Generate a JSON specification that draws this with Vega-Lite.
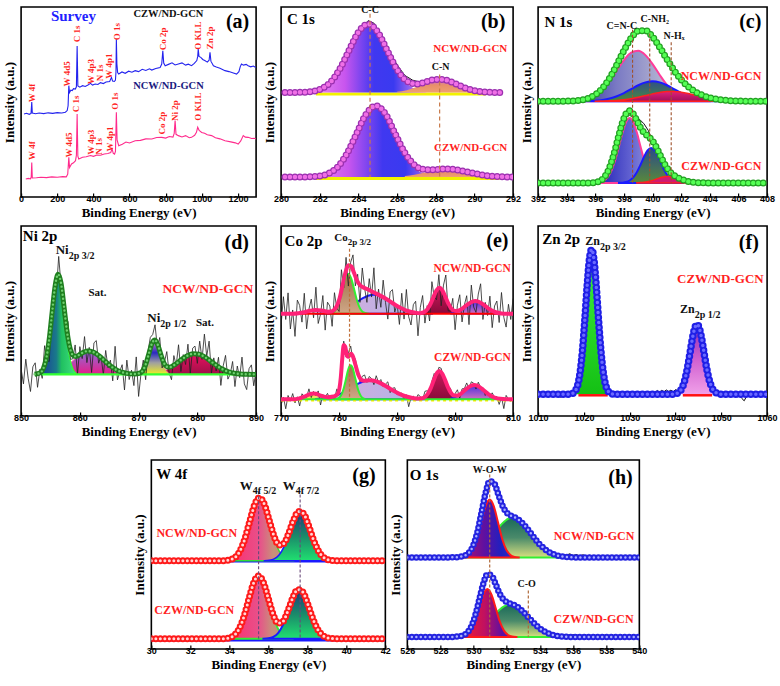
{
"$schema":"https://vega.github.io/schema/vega-lite/v6.json",
"padding":{"left":2,"right":0,"top":3,"bottom":2},
"background":"white",
"config":{
 "view":{"stroke":"#000","strokeWidth":1.6},
 "axis":{"grid":false,"domain":false,"titleFont":"Liberation Serif","titleFontWeight":"bold","titleFontSize":13,"titleColor":"#000","labelFont":"Liberation Sans","labelFontWeight":"bold","labelFontSize":9,"labelColor":"#000"},
 "axisX":{"tickSize":-4,"tickColor":"#000","tickWidth":1.2,"labelPadding":1.5,"titlePadding":3,"labelFlush":false,"format":"d"},
 "axisY":{"labels":false,"ticks":false,"titlePadding":5},
 "text":{"font":"Liberation Serif","fontWeight":"bold"}
},
"datasets":{
 "aBlue":[{"x":16,"y":43.7},{"x":30,"y":44.1},{"x":45,"y":43.5},{"x":55,"y":44},{"x":59,"y":50},{"x":62,"y":44.2},{"x":80,"y":43.8},{"x":100,"y":44.2},{"x":125,"y":43.9},{"x":150,"y":44.3},{"x":175,"y":44},{"x":200,"y":44.4},{"x":225,"y":44.2},{"x":245,"y":44.6},{"x":255,"y":45.5},{"x":260,"y":48},{"x":264,"y":58.6},{"x":268,"y":55},{"x":275,"y":56.2},{"x":283,"y":56},{"x":290,"y":57},{"x":300,"y":56.8},{"x":306,"y":58},{"x":310,"y":79.5},{"x":314,"y":58.5},{"x":325,"y":57.8},{"x":340,"y":58.6},{"x":355,"y":58.2},{"x":370,"y":59},{"x":384,"y":59.8},{"x":395,"y":58.9},{"x":410,"y":59.5},{"x":425,"y":59.2},{"x":439,"y":60.2},{"x":455,"y":59.7},{"x":470,"y":60.5},{"x":490,"y":60.8},{"x":500,"y":63},{"x":506,"y":61},{"x":516,"y":60.8},{"x":522,"y":61.5},{"x":525,"y":66},{"x":527,"y":83},{"x":530,"y":70},{"x":534,"y":65.5},{"x":540,"y":64.7},{"x":558,"y":65.8},{"x":576,"y":65.1},{"x":595,"y":66.2},{"x":613,"y":65.7},{"x":631,"y":66.5},{"x":650,"y":66},{"x":670,"y":67.2},{"x":690,"y":66.6},{"x":710,"y":67.5},{"x":723,"y":66.8},{"x":745,"y":67.6},{"x":769,"y":68.2},{"x":778,"y":70},{"x":784,"y":77},{"x":789,"y":70.5},{"x":797,"y":69.1},{"x":815,"y":69.8},{"x":835,"y":70.6},{"x":852,"y":69.5},{"x":870,"y":70},{"x":890,"y":70.6},{"x":910,"y":69.4},{"x":925,"y":69.9},{"x":943,"y":69.1},{"x":958,"y":70.3},{"x":972,"y":71.8},{"x":977,"y":74},{"x":980,"y":77.9},{"x":984,"y":74},{"x":994,"y":73.5},{"x":1005,"y":72.4},{"x":1016,"y":71.8},{"x":1030,"y":71},{"x":1040,"y":72},{"x":1045,"y":76.2},{"x":1050,"y":71.5},{"x":1064,"y":69.1},{"x":1080,"y":68.4},{"x":1100,"y":67.8},{"x":1128,"y":66.5},{"x":1150,"y":66},{"x":1170,"y":65.4},{"x":1192,"y":64.7},{"x":1205,"y":66},{"x":1212,"y":68.5},{"x":1219,"y":70},{"x":1230,"y":69.4},{"x":1245,"y":69.8},{"x":1256,"y":69.1},{"x":1270,"y":68.5},{"x":1285,"y":68.9},{"x":1298,"y":68.2}],
 "aPink":[{"x":26,"y":9.5},{"x":40,"y":9.8},{"x":52,"y":9.5},{"x":56,"y":10.5},{"x":59,"y":18.2},{"x":62,"y":10},{"x":85,"y":10.1},{"x":110,"y":10.4},{"x":140,"y":10.2},{"x":170,"y":10.6},{"x":200,"y":10.4},{"x":230,"y":10.7},{"x":250,"y":10.6},{"x":258,"y":12},{"x":264,"y":20.9},{"x":268,"y":15.5},{"x":279,"y":17.4},{"x":290,"y":18},{"x":301,"y":19.1},{"x":306,"y":22},{"x":310,"y":43.7},{"x":314,"y":21.5},{"x":319,"y":20},{"x":340,"y":20.9},{"x":360,"y":21.2},{"x":384,"y":21.8},{"x":400,"y":21.4},{"x":420,"y":22.1},{"x":439,"y":22},{"x":460,"y":22.6},{"x":480,"y":22.9},{"x":496,"y":23.4},{"x":503,"y":25.3},{"x":510,"y":23},{"x":517,"y":22.6},{"x":522,"y":24},{"x":527,"y":44.6},{"x":531,"y":30},{"x":540,"y":27},{"x":560,"y":27.8},{"x":580,"y":28.9},{"x":600,"y":28.4},{"x":631,"y":29.6},{"x":660,"y":29.8},{"x":690,"y":30.6},{"x":723,"y":30.5},{"x":750,"y":31.3},{"x":778,"y":31.4},{"x":800,"y":31},{"x":820,"y":31.8},{"x":840,"y":31.5},{"x":847,"y":33.5},{"x":852,"y":40.2},{"x":857,"y":33},{"x":870,"y":32.3},{"x":890,"y":31.6},{"x":910,"y":32.3},{"x":930,"y":31.2},{"x":943,"y":31.4},{"x":960,"y":32.5},{"x":970,"y":34},{"x":977,"y":36.7},{"x":985,"y":35},{"x":999,"y":34},{"x":1015,"y":33.5},{"x":1030,"y":32.8},{"x":1054,"y":32.3},{"x":1075,"y":31.2},{"x":1100,"y":30.6},{"x":1128,"y":29.6},{"x":1160,"y":29},{"x":1185,"y":28.5},{"x":1201,"y":27.9},{"x":1215,"y":29.5},{"x":1229,"y":32.3},{"x":1240,"y":31.5},{"x":1256,"y":31.4},{"x":1275,"y":30.8},{"x":1290,"y":30.9},{"x":1300,"y":30.5}],
 "bEnv":[{"s":"u","x":280.2,"y":55},{"s":"u","x":280.5,"y":55},{"s":"u","x":281,"y":55.08},{"s":"u","x":281.5,"y":55.4},{"s":"u","x":282,"y":56.58},{"s":"u","x":282.5,"y":59.87},{"s":"u","x":283,"y":66.69},{"s":"u","x":283.5,"y":76.83},{"s":"u","x":284,"y":86.77},{"s":"u","x":284.5,"y":91},{"s":"u","x":285,"y":86.77},{"s":"u","x":285.5,"y":76.83},{"s":"u","x":286,"y":67.04},{"s":"u","x":286.5,"y":61.05},{"s":"u","x":287,"y":59.46},{"s":"u","x":287.5,"y":60.58},{"s":"u","x":288,"y":61.91},{"s":"u","x":288.5,"y":61.62},{"s":"u","x":289,"y":59.72},{"s":"u","x":289.5,"y":57.47},{"s":"u","x":290,"y":55.95},{"s":"u","x":290.5,"y":55.27},{"s":"u","x":291,"y":55.06},{"s":"u","x":291.4,"y":55},{"s":"l","x":280.2,"y":10.5},{"s":"l","x":280.9,"y":10.5},{"s":"l","x":281.4,"y":10.58},{"s":"l","x":281.9,"y":10.92},{"s":"l","x":282.4,"y":12.15},{"s":"l","x":282.9,"y":15.57},{"s":"l","x":283.4,"y":22.68},{"s":"l","x":283.9,"y":33.24},{"s":"l","x":284.4,"y":43.59},{"s":"l","x":284.9,"y":48},{"s":"l","x":285.4,"y":43.59},{"s":"l","x":285.9,"y":33.24},{"s":"l","x":286.4,"y":23.25},{"s":"l","x":286.9,"y":16.84},{"s":"l","x":287.4,"y":14.47},{"s":"l","x":287.9,"y":14.35},{"s":"l","x":288.4,"y":14.71},{"s":"l","x":288.9,"y":14.55},{"s":"l","x":289.4,"y":13.72},{"s":"l","x":289.9,"y":12.59},{"s":"l","x":290.4,"y":11.6},{"s":"l","x":290.9,"y":10.97},{"s":"l","x":291.4,"y":10.66},{"s":"l","x":292,"y":10.5}],
 "cEnv":[{"s":"u","x":392,"y":50.4},{"s":"u","x":393.5,"y":50.4},{"s":"u","x":394,"y":50.46},{"s":"u","x":394.5,"y":50.59},{"s":"u","x":395,"y":51},{"s":"u","x":395.5,"y":51.93},{"s":"u","x":396,"y":53.85},{"s":"u","x":396.5,"y":57.32},{"s":"u","x":397,"y":62.62},{"s":"u","x":397.5,"y":69.58},{"s":"u","x":398,"y":77.15},{"s":"u","x":398.5,"y":83.65},{"s":"u","x":399,"y":87.42},{"s":"u","x":399.5,"y":87.57},{"s":"u","x":400,"y":84.31},{"s":"u","x":400.5,"y":78.82},{"s":"u","x":401,"y":72.57},{"s":"u","x":401.5,"y":66.67},{"s":"u","x":402,"y":61.79},{"s":"u","x":402.5,"y":58.05},{"s":"u","x":403,"y":55.33},{"s":"u","x":403.5,"y":53.46},{"s":"u","x":404,"y":52.2},{"s":"u","x":404.5,"y":51.41},{"s":"u","x":405,"y":50.93},{"s":"u","x":405.5,"y":50.67},{"s":"u","x":406,"y":50.51},{"s":"u","x":406.5,"y":50.45},{"s":"u","x":407,"y":50.4},{"s":"u","x":408,"y":50.4},{"s":"l","x":392,"y":7.4},{"s":"l","x":395.4,"y":7.4},{"s":"l","x":395.65,"y":7.42},{"s":"l","x":395.9,"y":7.57},{"s":"l","x":396.15,"y":7.92},{"s":"l","x":396.4,"y":8.79},{"s":"l","x":396.65,"y":10.61},{"s":"l","x":396.9,"y":13.88},{"s":"l","x":397.15,"y":18.87},{"s":"l","x":397.4,"y":25.41},{"s":"l","x":397.65,"y":32.7},{"s":"l","x":397.9,"y":39.36},{"s":"l","x":398.15,"y":43.91},{"s":"l","x":398.4,"y":45.35},{"s":"l","x":398.65,"y":43.68},{"s":"l","x":398.9,"y":40.19},{"s":"l","x":399.15,"y":36.52},{"s":"l","x":399.4,"y":33.86},{"s":"l","x":399.65,"y":32.13},{"s":"l","x":399.9,"y":30.38},{"s":"l","x":400.15,"y":27.72},{"s":"l","x":400.4,"y":24.06},{"s":"l","x":400.65,"y":20.05},{"s":"l","x":400.9,"y":16.49},{"s":"l","x":401.15,"y":13.81},{"s":"l","x":401.4,"y":11.94},{"s":"l","x":401.65,"y":10.65},{"s":"l","x":401.9,"y":9.68},{"s":"l","x":402.15,"y":8.93},{"s":"l","x":402.4,"y":8.34},{"s":"l","x":402.65,"y":7.94},{"s":"l","x":402.9,"y":7.68},{"s":"l","x":403.15,"y":7.53},{"s":"l","x":403.4,"y":7.46},{"s":"l","x":404,"y":7.4},{"s":"l","x":408,"y":7.4}],
 "dEnv":[{"x":852.3,"y":21.96},{"x":853.3,"y":22.85},{"x":853.8,"y":25.04},{"x":854.3,"y":30.48},{"x":854.8,"y":40.72},{"x":855.3,"y":55.02},{"x":855.8,"y":68.54},{"x":856.3,"y":74.56},{"x":856.8,"y":69.83},{"x":857.3,"y":57.64},{"x":857.8,"y":44.75},{"x":858.3,"y":35.98},{"x":858.8,"y":32.07},{"x":859.3,"y":31.36},{"x":860.3,"y":33},{"x":861.3,"y":34.16},{"x":862.3,"y":33.63},{"x":863.3,"y":31.58},{"x":864.3,"y":28.79},{"x":865.3,"y":26.13},{"x":866.3,"y":24.14},{"x":867.3,"y":22.92},{"x":868.3,"y":22.3},{"x":869.3,"y":22.07},{"x":870.3,"y":22.7},{"x":870.8,"y":24.36},{"x":871.3,"y":27.97},{"x":871.8,"y":33.35},{"x":872.3,"y":38.37},{"x":872.8,"y":39.97},{"x":873.3,"y":37.18},{"x":873.8,"y":32.18},{"x":874.3,"y":27.99},{"x":874.8,"y":25.94},{"x":875.3,"y":25.67},{"x":876.3,"y":27.35},{"x":877.3,"y":29.68},{"x":878.3,"y":31.69},{"x":879.3,"y":32.74},{"x":880.3,"y":32.46},{"x":881.3,"y":30.97},{"x":882.3,"y":28.75},{"x":883.3,"y":26.45},{"x":884.3,"y":24.56},{"x":885.3,"y":23.27},{"x":886.3,"y":22.52},{"x":887.3,"y":22.15},{"x":888.3,"y":21.99},{"x":890,"y":21.9}],
 "eEnv":[{"s":"u","x":770,"y":53.8},{"s":"u","x":772,"y":53.8},{"s":"u","x":773,"y":54.07},{"s":"u","x":774,"y":54.62},{"s":"u","x":775,"y":55.4},{"s":"u","x":776,"y":55.84},{"s":"u","x":777,"y":55.51},{"s":"u","x":778,"y":54.91},{"s":"u","x":778.6,"y":54.96},{"s":"u","x":779.1,"y":55.67},{"s":"u","x":779.6,"y":57.78},{"s":"u","x":780.1,"y":62.12},{"s":"u","x":780.6,"y":68.76},{"s":"u","x":781.1,"y":75.54},{"s":"u","x":781.6,"y":79.4},{"s":"u","x":782.1,"y":78.76},{"s":"u","x":782.6,"y":75.07},{"s":"u","x":783.1,"y":71.22},{"s":"u","x":783.6,"y":68.84},{"s":"u","x":784.1,"y":67.77},{"s":"u","x":785,"y":66.6},{"s":"u","x":786,"y":64.99},{"s":"u","x":787,"y":63.5},{"s":"u","x":788,"y":61.84},{"s":"u","x":789,"y":59.87},{"s":"u","x":790,"y":57.91},{"s":"u","x":791,"y":56.29},{"s":"u","x":792,"y":55.15},{"s":"u","x":793,"y":54.46},{"s":"u","x":794,"y":54.09},{"s":"u","x":794.3,"y":54.33},{"s":"u","x":794.8,"y":54.93},{"s":"u","x":795.3,"y":56.5},{"s":"u","x":795.8,"y":59.26},{"s":"u","x":796.3,"y":62.86},{"s":"u","x":796.8,"y":66.16},{"s":"u","x":797.3,"y":67.5},{"s":"u","x":797.8,"y":66.16},{"s":"u","x":798.3,"y":62.92},{"s":"u","x":798.8,"y":59.36},{"s":"u","x":799.3,"y":56.74},{"s":"u","x":799.8,"y":55.46},{"s":"u","x":800.3,"y":55.27},{"s":"u","x":801,"y":56.07},{"s":"u","x":802,"y":58.34},{"s":"u","x":803,"y":60.22},{"s":"u","x":803.5,"y":60.5},{"s":"u","x":804,"y":60.22},{"s":"u","x":805,"y":58.34},{"s":"u","x":806,"y":56.07},{"s":"u","x":807,"y":54.6},{"s":"u","x":808,"y":54},{"s":"u","x":809,"y":53.83},{"s":"u","x":810,"y":53.8},{"s":"l","x":770,"y":8.8},{"s":"l","x":772,"y":8.84},{"s":"l","x":773,"y":9.14},{"s":"l","x":774,"y":10.17},{"s":"l","x":775,"y":11.55},{"s":"l","x":775.5,"y":11.9},{"s":"l","x":776,"y":11.7},{"s":"l","x":777,"y":10.52},{"s":"l","x":778,"y":9.88},{"s":"l","x":778.8,"y":10.14},{"s":"l","x":779.3,"y":10.58},{"s":"l","x":779.8,"y":11.81},{"s":"l","x":780.3,"y":20.48},{"s":"l","x":780.55,"y":30.33},{"s":"l","x":780.8,"y":37.36},{"s":"l","x":781.05,"y":36.56},{"s":"l","x":781.3,"y":32.51},{"s":"l","x":781.55,"y":31.12},{"s":"l","x":781.8,"y":32.06},{"s":"l","x":782.05,"y":32.78},{"s":"l","x":782.3,"y":32.02},{"s":"l","x":782.8,"y":27.09},{"s":"l","x":783.3,"y":21.84},{"s":"l","x":783.8,"y":19.19},{"s":"l","x":784.3,"y":18.61},{"s":"l","x":785.3,"y":18.8},{"s":"l","x":786.3,"y":18.32},{"s":"l","x":787.3,"y":17.03},{"s":"l","x":788.3,"y":15.24},{"s":"l","x":789.3,"y":13.38},{"s":"l","x":790.3,"y":11.75},{"s":"l","x":791.3,"y":10.52},{"s":"l","x":792.3,"y":9.71},{"s":"l","x":793.3,"y":9.24},{"s":"l","x":794.3,"y":9.35},{"s":"l","x":794.8,"y":10.02},{"s":"l","x":795.3,"y":11.72},{"s":"l","x":795.8,"y":14.68},{"s":"l","x":796.3,"y":18.66},{"s":"l","x":796.8,"y":22.24},{"s":"l","x":797.3,"y":23.7},{"s":"l","x":797.8,"y":22.24},{"s":"l","x":798.3,"y":18.76},{"s":"l","x":798.8,"y":14.91},{"s":"l","x":799.3,"y":12.12},{"s":"l","x":799.8,"y":10.82},{"s":"l","x":800.3,"y":10.74},{"s":"l","x":800.8,"y":11.34},{"s":"l","x":801.8,"y":13.89},{"s":"l","x":802.8,"y":15.99},{"s":"l","x":803.3,"y":16.3},{"s":"l","x":803.8,"y":15.99},{"s":"l","x":804.8,"y":13.89},{"s":"l","x":805.8,"y":11.34},{"s":"l","x":806.8,"y":9.7},{"s":"l","x":807.8,"y":9.03},{"s":"l","x":808.8,"y":8.84},{"s":"l","x":810,"y":8.8}],
 "eRaw":[{"s":"u","x":770,"y":47.8},{"s":"u","x":770.4,"y":62.8},{"s":"u","x":770.8,"y":50.8},{"s":"u","x":771.2,"y":64.8},{"s":"u","x":771.6,"y":45.8},{"s":"u","x":772,"y":55.8},{"s":"u","x":772.4,"y":41.9},{"s":"u","x":772.8,"y":61},{"s":"u","x":773.2,"y":58.2},{"s":"u","x":773.6,"y":49.4},{"s":"u","x":774,"y":64.6},{"s":"u","x":774.4,"y":45.9},{"s":"u","x":774.8,"y":56.2},{"s":"u","x":775.2,"y":61.5},{"s":"u","x":775.6,"y":51.7},{"s":"u","x":776,"y":67.8},{"s":"u","x":776.4,"y":48.7},{"s":"u","x":776.8,"y":53.6},{"s":"u","x":777.2,"y":63.4},{"s":"u","x":777.6,"y":45.2},{"s":"u","x":778,"y":59.9},{"s":"u","x":778.4,"y":57.9},{"s":"u","x":778.8,"y":47.2},{"s":"u","x":779.2,"y":64.9},{"s":"u","x":779.6,"y":56.8},{"s":"u","x":780,"y":55},{"s":"u","x":780.4,"y":77},{"s":"u","x":780.8,"y":67.5},{"s":"u","x":781.2,"y":83.5},{"s":"u","x":781.6,"y":68.4},{"s":"u","x":782,"y":81},{"s":"u","x":782.4,"y":84.8},{"s":"u","x":782.8,"y":68.5},{"s":"u","x":783.2,"y":74.6},{"s":"u","x":783.6,"y":59.8},{"s":"u","x":784,"y":77.9},{"s":"u","x":784.4,"y":67.3},{"s":"u","x":784.8,"y":59.8},{"s":"u","x":785.2,"y":72.3},{"s":"u","x":785.6,"y":62.6},{"s":"u","x":786,"y":78},{"s":"u","x":786.4,"y":56.4},{"s":"u","x":786.8,"y":66.8},{"s":"u","x":787.2,"y":57.2},{"s":"u","x":787.6,"y":71.5},{"s":"u","x":788,"y":59.8},{"s":"u","x":788.4,"y":51},{"s":"u","x":788.8,"y":65.3},{"s":"u","x":789.2,"y":66.5},{"s":"u","x":789.6,"y":54.7},{"s":"u","x":790,"y":58.9},{"s":"u","x":790.4,"y":48.2},{"s":"u","x":790.8,"y":64.6},{"s":"u","x":791.2,"y":51},{"s":"u","x":791.6,"y":66.6},{"s":"u","x":792,"y":52.2},{"s":"u","x":792.4,"y":47.9},{"s":"u","x":792.8,"y":58.6},{"s":"u","x":793.2,"y":60.4},{"s":"u","x":793.6,"y":42.2},{"s":"u","x":794,"y":57.1},{"s":"u","x":794.4,"y":63.4},{"s":"u","x":794.8,"y":48.9},{"s":"u","x":795.2,"y":58.1},{"s":"u","x":795.6,"y":50},{"s":"u","x":796,"y":70.7},{"s":"u","x":796.4,"y":62.6},{"s":"u","x":796.8,"y":61.2},{"s":"u","x":797.2,"y":74.4},{"s":"u","x":797.6,"y":58},{"s":"u","x":798,"y":68.9},{"s":"u","x":798.4,"y":74.2},{"s":"u","x":798.8,"y":55.4},{"s":"u","x":799.2,"y":55.2},{"s":"u","x":799.6,"y":61.9},{"s":"u","x":800,"y":45.4},{"s":"u","x":800.4,"y":58.3},{"s":"u","x":800.8,"y":63.8},{"s":"u","x":801.2,"y":49.5},{"s":"u","x":801.6,"y":58.4},{"s":"u","x":802,"y":63.3},{"s":"u","x":802.4,"y":48.1},{"s":"u","x":802.8,"y":68.9},{"s":"u","x":803.2,"y":57.4},{"s":"u","x":803.6,"y":54.5},{"s":"u","x":804,"y":64.2},{"s":"u","x":804.4,"y":69.6},{"s":"u","x":804.8,"y":50.8},{"s":"u","x":805.2,"y":59.8},{"s":"u","x":805.6,"y":52.9},{"s":"u","x":806,"y":63.1},{"s":"u","x":806.4,"y":46.5},{"s":"u","x":806.8,"y":57.9},{"s":"u","x":807.2,"y":60.5},{"s":"u","x":807.6,"y":49.2},{"s":"u","x":808,"y":65},{"s":"u","x":808.4,"y":51.9},{"s":"u","x":808.8,"y":46.8},{"s":"u","x":809.2,"y":58.8},{"s":"u","x":809.6,"y":50.8},{"s":"u","x":810,"y":61.8},{"s":"l","x":770,"y":5.8},{"s":"l","x":770.4,"y":9.8},{"s":"l","x":770.8,"y":3.8},{"s":"l","x":771.2,"y":10.8},{"s":"l","x":771.6,"y":7.8},{"s":"l","x":772,"y":11.8},{"s":"l","x":772.4,"y":6.9},{"s":"l","x":772.8,"y":10.1},{"s":"l","x":773.2,"y":5.3},{"s":"l","x":773.6,"y":11.7},{"s":"l","x":774,"y":10.2},{"s":"l","x":774.4,"y":9.8},{"s":"l","x":774.8,"y":14.3},{"s":"l","x":775.2,"y":9.7},{"s":"l","x":775.6,"y":12.9},{"s":"l","x":776,"y":10.7},{"s":"l","x":776.4,"y":13.2},{"s":"l","x":776.8,"y":5.8},{"s":"l","x":777.2,"y":11.3},{"s":"l","x":777.6,"y":10},{"s":"l","x":778,"y":11.9},{"s":"l","x":778.4,"y":8.95},{"s":"l","x":778.8,"y":11.1},{"s":"l","x":779.2,"y":8.5},{"s":"l","x":779.6,"y":14.2},{"s":"l","x":780,"y":13},{"s":"l","x":780.4,"y":26},{"s":"l","x":780.8,"y":39.4},{"s":"l","x":781.2,"y":31},{"s":"l","x":781.6,"y":33.2},{"s":"l","x":782,"y":36.8},{"s":"l","x":782.4,"y":29.2},{"s":"l","x":782.8,"y":30.1},{"s":"l","x":783.2,"y":23.8},{"s":"l","x":783.6,"y":18},{"s":"l","x":784,"y":20.9},{"s":"l","x":784.4,"y":21.6},{"s":"l","x":784.8,"y":17.7},{"s":"l","x":785.2,"y":20.8},{"s":"l","x":785.6,"y":19.7},{"s":"l","x":786,"y":16.5},{"s":"l","x":786.4,"y":21.2},{"s":"l","x":786.8,"y":17.7},{"s":"l","x":787.2,"y":19.2},{"s":"l","x":787.6,"y":15.5},{"s":"l","x":788,"y":16.8},{"s":"l","x":788.4,"y":18},{"s":"l","x":788.8,"y":12.3},{"s":"l","x":789.2,"y":14.6},{"s":"l","x":789.6,"y":14.9},{"s":"l","x":790,"y":11.2},{"s":"l","x":790.4,"y":11.6},{"s":"l","x":790.8,"y":12.1},{"s":"l","x":791.2,"y":8.6},{"s":"l","x":791.6,"y":11.2},{"s":"l","x":792,"y":4.9},{"s":"l","x":792.4,"y":9.65},{"s":"l","x":792.8,"y":10.45},{"s":"l","x":793.2,"y":8.28},{"s":"l","x":793.6,"y":11.28},{"s":"l","x":794,"y":10.3},{"s":"l","x":794.4,"y":8.45},{"s":"l","x":794.8,"y":13},{"s":"l","x":795.2,"y":13.3},{"s":"l","x":795.6,"y":12.4},{"s":"l","x":796,"y":18.2},{"s":"l","x":796.4,"y":22.4},{"s":"l","x":796.8,"y":20.2},{"s":"l","x":797.2,"y":25.6},{"s":"l","x":797.6,"y":25.1},{"s":"l","x":798,"y":19.9},{"s":"l","x":798.4,"y":19},{"s":"l","x":798.8,"y":14.9},{"s":"l","x":799.2,"y":14.6},{"s":"l","x":799.6,"y":10.3},{"s":"l","x":800,"y":11.8},{"s":"l","x":800.4,"y":13.8},{"s":"l","x":800.8,"y":9.3},{"s":"l","x":801.2,"y":14.3},{"s":"l","x":801.6,"y":14.4},{"s":"l","x":802,"y":17.4},{"s":"l","x":802.4,"y":14.3},{"s":"l","x":802.8,"y":18},{"s":"l","x":803.2,"y":17.3},{"s":"l","x":803.6,"y":14.2},{"s":"l","x":804,"y":17.8},{"s":"l","x":804.4,"y":15},{"s":"l","x":804.8,"y":14.9},{"s":"l","x":805.2,"y":10.8},{"s":"l","x":805.6,"y":12.8},{"s":"l","x":806,"y":9.9},{"s":"l","x":806.4,"y":12.2},{"s":"l","x":806.8,"y":9.7},{"s":"l","x":807.2,"y":10.3},{"s":"l","x":807.6,"y":6.1},{"s":"l","x":808,"y":9.95},{"s":"l","x":808.4,"y":3.9},{"s":"l","x":808.8,"y":10.84},{"s":"l","x":809.2,"y":8.8},{"s":"l","x":809.6,"y":7.8},{"s":"l","x":810,"y":9.8}],
 "fEnv":[{"x":1010,"y":11.4},{"x":1016.2,"y":11.4},{"x":1016.7,"y":11.45},{"x":1017.2,"y":11.59},{"x":1017.7,"y":12.07},{"x":1018.2,"y":13.44},{"x":1018.7,"y":16.72},{"x":1019.2,"y":23.41},{"x":1019.7,"y":34.77},{"x":1020.2,"y":50.61},{"x":1020.7,"y":68.16},{"x":1021.2,"y":82.26},{"x":1021.7,"y":87.7},{"x":1022.2,"y":82.26},{"x":1022.7,"y":68.16},{"x":1023.2,"y":50.61},{"x":1023.7,"y":34.77},{"x":1024.2,"y":23.41},{"x":1024.7,"y":16.72},{"x":1025.2,"y":13.44},{"x":1025.7,"y":12.07},{"x":1026.2,"y":11.59},{"x":1026.7,"y":11.45},{"x":1027.2,"y":11.4},{"x":1039.2,"y":11.4},{"x":1039.7,"y":11.54},{"x":1040.2,"y":11.81},{"x":1040.7,"y":12.45},{"x":1041.2,"y":13.82},{"x":1041.7,"y":16.38},{"x":1042.2,"y":20.56},{"x":1042.7,"y":26.52},{"x":1043.2,"y":33.72},{"x":1043.7,"y":40.88},{"x":1044.2,"y":46.21},{"x":1044.7,"y":48.2},{"x":1045.2,"y":46.21},{"x":1045.7,"y":40.88},{"x":1046.2,"y":33.72},{"x":1046.7,"y":26.52},{"x":1047.2,"y":20.56},{"x":1047.7,"y":16.38},{"x":1048.2,"y":13.82},{"x":1048.7,"y":12.45},{"x":1049.2,"y":11.81},{"x":1049.7,"y":11.54},{"x":1050.2,"y":11.4},{"x":1060,"y":11.4}],
 "gEnv":[{"s":"u","x":30,"y":46.7},{"s":"u","x":33.3,"y":46.7},{"s":"u","x":33.55,"y":46.72},{"s":"u","x":33.8,"y":46.82},{"s":"u","x":34.05,"y":47.22},{"s":"u","x":34.3,"y":48.55},{"s":"u","x":34.55,"y":51.94},{"s":"u","x":34.8,"y":58.47},{"s":"u","x":35.05,"y":67.67},{"s":"u","x":35.3,"y":76.36},{"s":"u","x":35.55,"y":80},{"s":"u","x":35.8,"y":76.41},{"s":"u","x":36.05,"y":67.93},{"s":"u","x":36.3,"y":59.47},{"s":"u","x":36.55,"y":54.98},{"s":"u","x":36.8,"y":55.91},{"s":"u","x":37.05,"y":61.34},{"s":"u","x":37.3,"y":68.32},{"s":"u","x":37.55,"y":72.73},{"s":"u","x":37.8,"y":71.63},{"s":"u","x":38.05,"y":65.68},{"s":"u","x":38.3,"y":58.17},{"s":"u","x":38.55,"y":52.2},{"s":"u","x":38.8,"y":48.79},{"s":"u","x":39.05,"y":47.33},{"s":"u","x":39.3,"y":46.85},{"s":"u","x":39.55,"y":46.73},{"s":"u","x":40,"y":46.7},{"s":"u","x":42,"y":46.7},{"s":"l","x":30,"y":5.4},{"s":"l","x":33.25,"y":5.4},{"s":"l","x":33.5,"y":5.42},{"s":"l","x":33.75,"y":5.52},{"s":"l","x":34,"y":5.92},{"s":"l","x":34.25,"y":7.25},{"s":"l","x":34.5,"y":10.64},{"s":"l","x":34.75,"y":17.17},{"s":"l","x":35,"y":26.37},{"s":"l","x":35.25,"y":35.06},{"s":"l","x":35.5,"y":38.7},{"s":"l","x":35.75,"y":35.11},{"s":"l","x":36,"y":26.63},{"s":"l","x":36.25,"y":18.17},{"s":"l","x":36.5,"y":13.68},{"s":"l","x":36.75,"y":14.61},{"s":"l","x":37,"y":20.04},{"s":"l","x":37.25,"y":27.02},{"s":"l","x":37.5,"y":31.43},{"s":"l","x":37.75,"y":30.33},{"s":"l","x":38,"y":24.38},{"s":"l","x":38.25,"y":16.87},{"s":"l","x":38.5,"y":10.9},{"s":"l","x":38.75,"y":7.49},{"s":"l","x":39,"y":6.03},{"s":"l","x":39.25,"y":5.55},{"s":"l","x":39.5,"y":5.43},{"s":"l","x":40,"y":5.4},{"s":"l","x":42,"y":5.4}],
 "hEnv":[{"s":"u","x":526,"y":48.4},{"s":"u","x":528.2,"y":48.4},{"s":"u","x":528.47,"y":48.44},{"s":"u","x":528.72,"y":48.49},{"s":"u","x":528.97,"y":48.59},{"s":"u","x":529.22,"y":48.84},{"s":"u","x":529.47,"y":49.43},{"s":"u","x":529.72,"y":50.96},{"s":"u","x":529.97,"y":54.58},{"s":"u","x":530.22,"y":61.61},{"s":"u","x":530.47,"y":71.92},{"s":"u","x":530.72,"y":82.53},{"s":"u","x":530.97,"y":88.7},{"s":"u","x":531.22,"y":87.94},{"s":"u","x":531.47,"y":82.34},{"s":"u","x":531.72,"y":76.28},{"s":"u","x":531.97,"y":72.43},{"s":"u","x":532.22,"y":70.7},{"s":"u","x":532.47,"y":69.69},{"s":"u","x":532.72,"y":68.41},{"s":"u","x":532.97,"y":66.4},{"s":"u","x":533.22,"y":63.83},{"s":"u","x":533.47,"y":60.97},{"s":"u","x":533.97,"y":55.53},{"s":"u","x":534.47,"y":51.7},{"s":"u","x":534.97,"y":49.64},{"s":"u","x":535.47,"y":48.78},{"s":"u","x":535.97,"y":48.49},{"s":"u","x":536.47,"y":48.42},{"s":"u","x":537,"y":48.4},{"s":"u","x":540,"y":48.4},{"s":"l","x":526,"y":6.3},{"s":"l","x":528.1,"y":6.3},{"s":"l","x":528.33,"y":6.33},{"s":"l","x":528.58,"y":6.37},{"s":"l","x":528.83,"y":6.45},{"s":"l","x":529.08,"y":6.66},{"s":"l","x":529.33,"y":7.14},{"s":"l","x":529.58,"y":8.41},{"s":"l","x":529.83,"y":11.38},{"s":"l","x":530.08,"y":17.19},{"s":"l","x":530.33,"y":25.7},{"s":"l","x":530.58,"y":34.45},{"s":"l","x":530.83,"y":39.53},{"s":"l","x":531.08,"y":38.86},{"s":"l","x":531.33,"y":34.2},{"s":"l","x":531.58,"y":29.15},{"s":"l","x":531.83,"y":25.94},{"s":"l","x":532.08,"y":24.5},{"s":"l","x":532.33,"y":23.66},{"s":"l","x":532.58,"y":22.61},{"s":"l","x":532.83,"y":20.97},{"s":"l","x":533.08,"y":18.88},{"s":"l","x":533.33,"y":16.55},{"s":"l","x":533.83,"y":12.11},{"s":"l","x":534.33,"y":8.99},{"s":"l","x":534.83,"y":7.31},{"s":"l","x":535.33,"y":6.61},{"s":"l","x":535.83,"y":6.37},{"s":"l","x":536.33,"y":6.32},{"s":"l","x":537,"y":6.3},{"s":"l","x":540,"y":6.3}]
},
"vconcat":[
 {"vconcat":[
  {"hconcat":[
   {"width":235,"height":190,
    "encoding":{"x":{"field":"x","type":"quantitative","scale":{"domain":[0,1300],"nice":false,"zero":false},"axis":{"values":[0,200,400,600,800,1000,1200],"title":"Binding Energy (eV)"}},
                "y":{"field":"y","type":"quantitative","scale":{"domain":[0,100],"nice":false,"zero":false},"axis":{"title":"Intensity (a.u.)"}}},
    "layer":[
     {"data":{"name":"aBlue"},"mark":{"type":"line","color":"#2323ee","strokeWidth":1.1,"clip":true},"encoding":{}},
     {"data":{"name":"aPink"},"mark":{"type":"line","color":"#ff2a8c","strokeWidth":1.1,"clip":true},"encoding":{}},
     {"data":{"values":[{"x":59,"y":54.7,"t":"W 4f"},{"x":255,"y":64.8,"t":"W 4d5"},{"x":310,"y":85.8,"t":"C 1s"},{"x":384,"y":66,"t":"W 4p3"},{"x":439,"y":65.3,"t":"N 1s"},{"x":489,"y":68.9,"t":"W 4p1"},{"x":531,"y":87.1,"t":"O 1s"},{"x":784,"y":83.2,"t":"Co 2p"},{"x":977,"y":84.9,"t":"O KLL"},{"x":1047,"y":83.7,"t":"Zn 2p"},{"x":59,"y":24.4,"t":"W 4f"},{"x":264,"y":27.4,"t":"W 4d5"},{"x":305,"y":49,"t":"C 1s"},{"x":384,"y":28.8,"t":"W 4p3"},{"x":430,"y":26.6,"t":"N 1s"},{"x":494,"y":30.5,"t":"W 4p1"},{"x":522,"y":50.5,"t":"O 1s"},{"x":778,"y":38.9,"t":"Co 2p"},{"x":852,"y":45.4,"t":"Ni 2p"},{"x":977,"y":47.6,"t":"O KLL"}]},
      "mark":{"type":"text","angle":270,"fontSize":9,"fill":"#ff1f1f"},"encoding":{"text":{"field":"t"}}},
     {"data":{"values":[{"x":165,"y":95.4,"t":"Survey"}]},"mark":{"type":"text","align":"left","fontSize":15,"fill":"#1f1fff"},"encoding":{"text":{"field":"t"}}},
     {"data":{"values":[{"x":815,"y":96.3,"t":"CZW/ND-GCN"}]},"mark":{"type":"text","fontSize":10.5,"fill":"#111"},"encoding":{"text":{"field":"t"}}},
     {"data":{"values":[{"x":815,"y":58.6,"t":"NCW/ND-GCN"}]},"mark":{"type":"text","fontSize":10.5,"fill":"#1a1a80"},"encoding":{"text":{"field":"t"}}},
     {"data":{"values":[{"x":1262,"y":92,"t":"(a)"}]},"mark":{"type":"text","align":"right","fontSize":20,"fill":"#000"},"encoding":{"text":{"field":"t"}}}
    ]},
   {"width":232,"height":190,
    "encoding":{"x":{"field":"x","type":"quantitative","scale":{"domain":[280,292],"nice":false,"zero":false},"axis":{"values":[280,282,284,286,288,290,292],"title":"Binding Energy (eV)"}},
                "y":{"field":"y","type":"quantitative","scale":{"domain":[0,100],"nice":false,"zero":false},"axis":{"title":"Intensity (a.u.)"}}},
    "layer":[
     {"data":{"values":[{"x":281.8,"y":54.2,"s":"u"},{"x":290.6,"y":54.2,"s":"u"},{"x":281.8,"y":9.7,"s":"l"},{"x":291.3,"y":9.7,"s":"l"}]},"mark":{"type":"line","color":"#f2f200","strokeWidth":3,"clip":true},"encoding":{"detail":{"field":"s"}}},
     {"data":{"values":[{"s":"u","x":280.2,"y":55.6},{"s":"u","x":280.6,"y":55.2},{"s":"u","x":281,"y":55.8},{"s":"u","x":281.4,"y":55.3},{"s":"u","x":281.8,"y":56},{"s":"u","x":282.2,"y":57.6},{"s":"u","x":282.6,"y":60.8},{"s":"u","x":283,"y":66.5},{"s":"u","x":283.4,"y":75.5},{"s":"u","x":283.8,"y":83.5},{"s":"u","x":284.2,"y":89.5},{"s":"u","x":284.5,"y":92.8},{"s":"u","x":284.8,"y":91.5},{"s":"u","x":285.2,"y":84.8},{"s":"u","x":285.6,"y":76.5},{"s":"u","x":286,"y":69.5},{"s":"u","x":286.4,"y":64},{"s":"u","x":286.8,"y":61.5},{"s":"u","x":287.2,"y":60.4},{"s":"u","x":287.6,"y":60.9},{"s":"u","x":288,"y":61.8},{"s":"u","x":288.4,"y":61.9},{"s":"u","x":288.8,"y":60.6},{"s":"u","x":289.2,"y":58.8},{"s":"u","x":289.6,"y":57.2},{"s":"u","x":290,"y":56.3},{"s":"u","x":290.4,"y":55.7},{"s":"u","x":290.8,"y":55.2},{"s":"u","x":291.2,"y":55.6},{"s":"l","x":280.2,"y":11.2},{"s":"l","x":280.6,"y":10.8},{"s":"l","x":281,"y":11.3},{"s":"l","x":281.4,"y":10.9},{"s":"l","x":281.8,"y":11.3},{"s":"l","x":282.2,"y":11.9},{"s":"l","x":282.6,"y":13.6},{"s":"l","x":283,"y":17},{"s":"l","x":283.4,"y":22.9},{"s":"l","x":283.8,"y":31.5},{"s":"l","x":284.2,"y":40.5},{"s":"l","x":284.6,"y":46.6},{"s":"l","x":284.9,"y":48.2},{"s":"l","x":285.2,"y":46.5},{"s":"l","x":285.6,"y":39.8},{"s":"l","x":286,"y":31.5},{"s":"l","x":286.4,"y":24.5},{"s":"l","x":286.8,"y":18.8},{"s":"l","x":287.2,"y":15.8},{"s":"l","x":287.6,"y":14.8},{"s":"l","x":288,"y":14.6},{"s":"l","x":288.4,"y":14.9},{"s":"l","x":288.8,"y":14.8},{"s":"l","x":289.2,"y":14.1},{"s":"l","x":289.6,"y":13},{"s":"l","x":290,"y":12.2},{"s":"l","x":290.4,"y":11.4},{"s":"l","x":290.8,"y":11},{"s":"l","x":291.2,"y":10.9},{"s":"l","x":291.6,"y":10.8},{"s":"l","x":292,"y":10.7}]},
      "mark":{"type":"line","color":"#111","strokeWidth":1,"clip":true},"encoding":{"detail":{"field":"s"}}},
     {"data":{"values":[{"x":281.5,"y":55.4},{"x":282,"y":56.58},{"x":282.5,"y":59.87},{"x":283,"y":66.69},{"x":283.5,"y":76.83},{"x":284,"y":86.77},{"x":284.5,"y":91},{"x":285,"y":86.77},{"x":285.5,"y":76.83},{"x":286,"y":66.69},{"x":286.5,"y":59.87},{"x":287,"y":56.58},{"x":287.5,"y":55.4}]},
      "mark":{"type":"area","interpolate":"monotone","clip":true,"fill":{"gradient":"linear","x1":0,"y1":0,"x2":1,"y2":0,"stops":[{"offset":0,"color":"#f290f2"},{"offset":0.3,"color":"#c855ee"},{"offset":0.55,"color":"#4038f0"},{"offset":0.72,"color":"#3a3af0"},{"offset":1,"color":"#f08cf0"}]}},"encoding":{"y2":{"datum":55}}},
     {"data":{"values":[{"x":286,"y":55.35},{"x":286.5,"y":56.18},{"x":287,"y":57.88},{"x":287.5,"y":60.18},{"x":288,"y":61.83},{"x":288.5,"y":61.62},{"x":289,"y":59.72},{"x":289.5,"y":57.47},{"x":290,"y":55.95},{"x":290.5,"y":55.27}]},
      "mark":{"type":"area","interpolate":"monotone","clip":true,"fill":{"gradient":"linear","x1":0,"y1":0,"x2":0,"y2":1,"stops":[{"offset":0,"color":"#d070c8"},{"offset":0.45,"color":"#e8906a"},{"offset":1,"color":"#f0a070"}]}},"encoding":{"y2":{"datum":55}}},
     {"data":{"values":[{"x":281.4,"y":10.58},{"x":281.9,"y":10.92},{"x":282.4,"y":12.15},{"x":282.9,"y":15.57},{"x":283.4,"y":22.68},{"x":283.9,"y":33.24},{"x":284.4,"y":43.59},{"x":284.9,"y":48},{"x":285.4,"y":43.59},{"x":285.9,"y":33.24},{"x":286.4,"y":22.68},{"x":286.9,"y":15.57},{"x":287.4,"y":12.15},{"x":287.9,"y":10.92},{"x":288.4,"y":10.58}]},
      "mark":{"type":"area","interpolate":"monotone","clip":true,"fill":{"gradient":"linear","x1":0,"y1":0,"x2":1,"y2":0,"stops":[{"offset":0,"color":"#f290f2"},{"offset":0.3,"color":"#c855ee"},{"offset":0.55,"color":"#4038f0"},{"offset":0.72,"color":"#3a3af0"},{"offset":1,"color":"#f08cf0"}]}},"encoding":{"y2":{"datum":10.5}}},
     {"data":{"values":[{"x":286.4,"y":11.07},{"x":286.9,"y":11.77},{"x":287.4,"y":12.82},{"x":287.9,"y":13.93},{"x":288.4,"y":14.63},{"x":288.9,"y":14.55},{"x":289.4,"y":13.72},{"x":289.9,"y":12.59},{"x":290.4,"y":11.6},{"x":290.9,"y":10.97},{"x":291.4,"y":10.66}]},
      "mark":{"type":"area","interpolate":"monotone","clip":true,"fill":{"gradient":"linear","x1":0,"y1":0,"x2":0,"y2":1,"stops":[{"offset":0,"color":"#d070c8"},{"offset":0.45,"color":"#e8906a"},{"offset":1,"color":"#f0a070"}]}},"encoding":{"y2":{"datum":10.5}}},
     {"data":{"name":"bEnv"},"mark":{"type":"line","interpolate":"monotone","clip":true,"color":"#9b30b0","strokeWidth":7,"strokeDash":[0,5],"strokeCap":"round"},"encoding":{"detail":{"field":"s"}}},
     {"data":{"name":"bEnv"},"mark":{"type":"line","interpolate":"monotone","clip":true,"color":"#f070e6","strokeWidth":4.5,"strokeDash":[0,5],"strokeCap":"round"},"encoding":{"detail":{"field":"s"}}},
     {"data":{"values":[{"x":284.6,"y":96.5,"y2":10.5},{"x":288.2,"y":64.5,"y2":10.5}]},"mark":{"type":"rule","color":"#c87a4a","strokeWidth":1.2,"strokeDash":[4,3]},"encoding":{"y2":{"field":"y2"}}},
     {"data":{"values":[{"x":284.6,"y":98.6,"t":"C-C"},{"x":288.25,"y":68.5,"t":"C-N"}]},"mark":{"type":"text","fontSize":10,"fill":"#111"},"encoding":{"text":{"field":"t"}}},
     {"data":{"values":[{"x":280.3,"y":93.5,"t":"C 1s"}]},"mark":{"type":"text","align":"left","fontSize":15,"fill":"#000"},"encoding":{"text":{"field":"t"}}},
     {"data":{"values":[{"x":291.6,"y":92,"t":"(b)"}]},"mark":{"type":"text","align":"right","fontSize":20,"fill":"#000"},"encoding":{"text":{"field":"t"}}},
     {"data":{"values":[{"x":291.7,"y":78,"t":"NCW/ND-GCN"},{"x":291.7,"y":26,"t":"CZW/ND-GCN"}]},"mark":{"type":"text","align":"right","fontSize":11,"fill":"#ff1f1f"},"encoding":{"text":{"field":"t"}}}
    ]},
   {"width":229,"height":190,
    "encoding":{"x":{"field":"x","type":"quantitative","scale":{"domain":[392,408],"nice":false,"zero":false},"axis":{"values":[392,394,396,398,400,402,404,406,408],"title":"Binding Energy (eV)"}},
                "y":{"field":"y","type":"quantitative","scale":{"domain":[0,100],"nice":false,"zero":false},"axis":{"title":"Intensity (a.u.)"}}},
    "layer":[
     {"data":{"values":[{"x":392.3,"y":7.6},{"x":393,"y":7.9},{"x":394,"y":7.5},{"x":394.8,"y":8},{"x":395.5,"y":7.7},{"x":396,"y":8.3},{"x":396.4,"y":9.5},{"x":396.7,"y":11.8},{"x":397,"y":15.5},{"x":397.3,"y":22.5},{"x":397.6,"y":30},{"x":397.9,"y":37.5},{"x":398.2,"y":42.3},{"x":398.5,"y":43.6},{"x":398.8,"y":42},{"x":399.1,"y":40.8},{"x":399.4,"y":38.5},{"x":399.7,"y":35},{"x":400,"y":29.5},{"x":400.3,"y":24.5},{"x":400.6,"y":19.8},{"x":400.9,"y":15.6},{"x":401.2,"y":12.6},{"x":401.5,"y":10.8},{"x":401.8,"y":9.8},{"x":402.2,"y":8.8},{"x":402.7,"y":8.1},{"x":403.2,"y":7.8},{"x":404,"y":8.2},{"x":404.8,"y":7.9},{"x":405.5,"y":8.3},{"x":406.3,"y":7.8},{"x":407.2,"y":8.2},{"x":407.8,"y":7.9}]},
      "mark":{"type":"line","color":"#111","strokeWidth":1,"clip":true},"encoding":{}},
     {"data":{"values":[{"x":394,"y":50.46},{"x":394.5,"y":50.59},{"x":395,"y":50.95},{"x":395.5,"y":51.79},{"x":396,"y":53.51},{"x":396.5,"y":56.53},{"x":397,"y":60.99},{"x":397.5,"y":66.53},{"x":398,"y":72.04},{"x":398.5,"y":75.94},{"x":399,"y":76.93},{"x":399.5,"y":74.67},{"x":400,"y":69.93},{"x":400.5,"y":64.24},{"x":401,"y":59.04},{"x":401.5,"y":55.14},{"x":402,"y":52.69},{"x":402.5,"y":51.38},{"x":403,"y":50.76},{"x":403.5,"y":50.52},{"x":404,"y":50.43}]},
      "mark":{"type":"area","interpolate":"monotone","clip":true,"stroke":"#ff3d9a","strokeWidth":2,"fill":{"gradient":"linear","x1":0,"y1":0,"x2":1,"y2":0,"stops":[{"offset":0,"color":"#22229a"},{"offset":0.35,"color":"#7a7ac4"},{"offset":0.7,"color":"#b8b8d2"},{"offset":1,"color":"#dcdce0"}]}},"encoding":{"y2":{"datum":50.4}}},
     {"data":{"values":[{"x":395,"y":50.44},{"x":395.5,"y":50.52},{"x":396,"y":50.7},{"x":396.5,"y":51.09},{"x":397,"y":51.82},{"x":397.5,"y":53.02},{"x":398,"y":54.72},{"x":398.5,"y":56.77},{"x":399,"y":58.81},{"x":399.5,"y":60.33},{"x":400,"y":60.9},{"x":400.5,"y":60.33},{"x":401,"y":58.81},{"x":401.5,"y":56.77},{"x":402,"y":54.72},{"x":402.5,"y":53.02},{"x":403,"y":51.82},{"x":403.5,"y":51.09},{"x":404,"y":50.7},{"x":404.5,"y":50.52},{"x":405,"y":50.44}]},
      "mark":{"type":"area","interpolate":"monotone","clip":true,"stroke":"#1a1aff","strokeWidth":2,"fill":{"gradient":"linear","x1":0,"y1":0,"x2":0,"y2":1,"stops":[{"offset":0,"color":"#30508a"},{"offset":1,"color":"#4a8a3a"}]}},"encoding":{"y2":{"datum":50.4}}},
     {"data":{"values":[{"x":396,"y":50.44},{"x":396.5,"y":50.5},{"x":397,"y":50.61},{"x":397.5,"y":50.83},{"x":398,"y":51.19},{"x":398.5,"y":51.74},{"x":399,"y":52.48},{"x":399.5,"y":53.37},{"x":400,"y":54.28},{"x":400.5,"y":55.05},{"x":401,"y":55.52},{"x":401.5,"y":55.56},{"x":402,"y":55.18},{"x":402.5,"y":54.45},{"x":403,"y":53.55},{"x":403.5,"y":52.65},{"x":404,"y":51.87},{"x":404.5,"y":51.29},{"x":405,"y":50.89},{"x":405.5,"y":50.65},{"x":406,"y":50.51},{"x":406.5,"y":50.45}]},
      "mark":{"type":"area","interpolate":"monotone","clip":true,"stroke":"#ff2020","strokeWidth":1.5,"fill":{"gradient":"linear","x1":0,"y1":0,"x2":0,"y2":1,"stops":[{"offset":0,"color":"#e0207a"},{"offset":1,"color":"#a0105a"}]}},"encoding":{"y2":{"datum":50.4}}},
     {"data":{"values":[{"x":395.9,"y":7.51},{"x":396.15,"y":7.72},{"x":396.4,"y":8.21},{"x":396.65,"y":9.11},{"x":396.9,"y":10.44},{"x":397.15,"y":11.93},{"x":397.4,"y":13.08},{"x":397.65,"y":13.38},{"x":397.9,"y":12.7},{"x":398.15,"y":11.34},{"x":398.4,"y":9.87},{"x":398.65,"y":8.7},{"x":398.9,"y":7.97},{"x":399.15,"y":7.61},{"x":399.4,"y":7.47}]},
      "mark":{"type":"area","interpolate":"monotone","clip":true,"fill":"#e4e49c"},"encoding":{"y2":{"datum":7.4}}},
     {"data":{"values":[{"x":395.65,"y":7.42},{"x":395.9,"y":7.46},{"x":396.15,"y":7.6},{"x":396.4,"y":7.98},{"x":396.65,"y":8.9},{"x":396.9,"y":10.84},{"x":397.15,"y":14.34},{"x":397.4,"y":19.73},{"x":397.65,"y":26.67},{"x":397.9,"y":33.9},{"x":398.15,"y":39.48},{"x":398.4,"y":41.6},{"x":398.65,"y":39.48},{"x":398.9,"y":33.9},{"x":399.15,"y":26.67},{"x":399.4,"y":19.73},{"x":399.65,"y":14.34},{"x":399.9,"y":10.84},{"x":400.15,"y":8.9},{"x":400.4,"y":7.98},{"x":400.65,"y":7.6},{"x":400.9,"y":7.46},{"x":401.15,"y":7.42}]},
      "mark":{"type":"area","interpolate":"monotone","clip":true,"stroke":"#ff3d9a","strokeWidth":2,"fill":{"gradient":"linear","x1":0,"y1":0,"x2":1,"y2":0,"stops":[{"offset":0,"color":"#1212b0"},{"offset":0.5,"color":"#6060d0"},{"offset":1,"color":"#c4c4e0"}]}},"encoding":{"y2":{"datum":7.4}}},
     {"data":{"values":[{"x":397.65,"y":7.45},{"x":397.9,"y":7.56},{"x":398.15,"y":7.89},{"x":398.4,"y":8.68},{"x":398.65,"y":10.3},{"x":398.9,"y":13.04},{"x":399.15,"y":16.86},{"x":399.4,"y":21.09},{"x":399.65,"y":24.49},{"x":399.9,"y":25.8},{"x":400.15,"y":24.49},{"x":400.4,"y":21.09},{"x":400.65,"y":16.86},{"x":400.9,"y":13.04},{"x":401.15,"y":10.3},{"x":401.4,"y":8.68},{"x":401.65,"y":7.89},{"x":401.9,"y":7.56},{"x":402.15,"y":7.45}]},
      "mark":{"type":"area","interpolate":"monotone","clip":true,"stroke":"#1a1aff","strokeWidth":2,"fill":{"gradient":"linear","x1":0,"y1":0,"x2":0,"y2":1,"stops":[{"offset":0,"color":"#2a4a8a"},{"offset":1,"color":"#5a8a3a"}]}},"encoding":{"y2":{"datum":7.4}}},
     {"data":{"values":[{"x":398.9,"y":7.48},{"x":399.15,"y":7.58},{"x":399.4,"y":7.77},{"x":399.65,"y":8.08},{"x":399.9,"y":8.54},{"x":400.15,"y":9.13},{"x":400.4,"y":9.79},{"x":400.65,"y":10.39},{"x":400.9,"y":10.79},{"x":401.15,"y":10.89},{"x":401.4,"y":10.66},{"x":401.65,"y":10.16},{"x":401.9,"y":9.52},{"x":402.15,"y":8.88},{"x":402.4,"y":8.34},{"x":402.65,"y":7.94},{"x":402.9,"y":7.68},{"x":403.15,"y":7.53},{"x":403.4,"y":7.46}]},
      "mark":{"type":"area","interpolate":"monotone","clip":true,"stroke":"#ff2020","strokeWidth":1.5,"fill":"#d01a70"},"encoding":{"y2":{"datum":7.4}}},
     {"data":{"name":"cEnv"},"mark":{"type":"line","interpolate":"monotone","clip":true,"color":"#22a022","strokeWidth":7,"strokeDash":[0,5],"strokeCap":"round"},"encoding":{"detail":{"field":"s"}}},
     {"data":{"name":"cEnv"},"mark":{"type":"line","interpolate":"monotone","clip":true,"color":"#55ff55","strokeWidth":4.5,"strokeDash":[0,5],"strokeCap":"round"},"encoding":{"detail":{"field":"s"}}},
     {"data":{"values":[{"x":398.6,"y":88,"y2":7},{"x":399.8,"y":86,"y2":7},{"x":401.3,"y":81.5,"y2":7}]},"mark":{"type":"rule","color":"#a0522d","strokeWidth":1.1,"strokeDash":[3,2]},"encoding":{"y2":{"field":"y2"}}},
     {"data":{"values":[{"x":397.85,"y":90.2,"t":"C=N-C"},{"x":400.15,"y":93.7,"t":"C-NH₂"},{"x":401.5,"y":84.9,"t":"N-Hₓ"}]},"mark":{"type":"text","fontSize":10,"fill":"#111"},"encoding":{"text":{"field":"t"}}},
     {"data":{"values":[{"x":392.45,"y":92,"t":"N 1s"}]},"mark":{"type":"text","align":"left","fontSize":15,"fill":"#000"},"encoding":{"text":{"field":"t"}}},
     {"data":{"values":[{"x":407.6,"y":92,"t":"(c)"}]},"mark":{"type":"text","align":"right","fontSize":20,"fill":"#000"},"encoding":{"text":{"field":"t"}}},
     {"data":{"values":[{"x":407.6,"y":63.8,"t":"NCW/ND-GCN"},{"x":407.6,"y":16.5,"t":"CZW/ND-GCN"}]},"mark":{"type":"text","align":"right","fontSize":12,"fill":"#ff1f1f"},"encoding":{"text":{"field":"t"}}}
    ]}
  ],"spacing":25,"bounds":"flush"},
  {"hconcat":[
   {"width":235,"height":190,
    "encoding":{"x":{"field":"x","type":"quantitative","scale":{"domain":[850,890],"nice":false,"zero":false},"axis":{"values":[850,860,870,880,890],"title":"Binding Energy (eV)"}},
                "y":{"field":"y","type":"quantitative","scale":{"domain":[0,100],"nice":false,"zero":false},"axis":{"title":"Intensity (a.u.)"}}},
    "layer":[
     {"data":{"values":[{"x":855.3,"y":22.62},{"x":856.3,"y":23.56},{"x":857.3,"y":25.24},{"x":858.3,"y":27.67},{"x":859.3,"y":30.5},{"x":860.3,"y":32.96},{"x":861.3,"y":34.16},{"x":862.3,"y":33.63},{"x":863.3,"y":31.58},{"x":864.3,"y":28.79},{"x":865.3,"y":26.13},{"x":866.3,"y":24.14},{"x":867.3,"y":22.92},{"x":868.3,"y":22.3},{"x":869.3,"y":22.04}]},
      "mark":{"type":"area","interpolate":"monotone","clip":true,"stroke":"#ff5fa0","strokeWidth":1,"fill":{"gradient":"linear","x1":0,"y1":0,"x2":0,"y2":1,"stops":[{"offset":0,"color":"#8a70d8"},{"offset":1,"color":"#e81c8a"}]}},"encoding":{"y2":{"datum":21.9}}},
     {"data":{"values":[{"x":853.3,"y":22.76},{"x":853.8,"y":24.89},{"x":854.3,"y":30.21},{"x":854.8,"y":40.28},{"x":855.3,"y":54.3},{"x":855.8,"y":67.43},{"x":856.3,"y":72.9},{"x":856.8,"y":67.43},{"x":857.3,"y":54.3},{"x":857.8,"y":40.28},{"x":858.3,"y":30.21},{"x":858.8,"y":24.89},{"x":859.3,"y":22.76}]},
      "mark":{"type":"area","interpolate":"monotone","clip":true,"stroke":"#33ff33","strokeWidth":1.2,"fill":{"gradient":"linear","x1":0,"y1":0,"x2":1,"y2":0,"stops":[{"offset":0,"color":"#1a3a9a"},{"offset":0.45,"color":"#1a7a8a"},{"offset":0.6,"color":"#20c060"},{"offset":1,"color":"#40e080"}]}},"encoding":{"y2":{"datum":21.9}}},
     {"data":{"values":[{"x":871.3,"y":22.03},{"x":872.3,"y":22.26},{"x":873.3,"y":22.77},{"x":874.3,"y":23.72},{"x":875.3,"y":25.25},{"x":876.3,"y":27.34},{"x":877.3,"y":29.68},{"x":878.3,"y":31.69},{"x":879.3,"y":32.74},{"x":880.3,"y":32.46},{"x":881.3,"y":30.97},{"x":882.3,"y":28.75},{"x":883.3,"y":26.45},{"x":884.3,"y":24.56},{"x":885.3,"y":23.27},{"x":886.3,"y":22.52},{"x":887.3,"y":22.15},{"x":888.3,"y":21.99}]},
      "mark":{"type":"area","interpolate":"monotone","clip":true,"fill":{"gradient":"linear","x1":0,"y1":0,"x2":0,"y2":1,"stops":[{"offset":0,"color":"#e81060"},{"offset":1,"color":"#a01048"}]}},"encoding":{"y2":{"datum":21.9}}},
     {"data":{"values":[{"x":870.3,"y":22.62},{"x":870.8,"y":24.28},{"x":871.3,"y":27.84},{"x":871.8,"y":33.13},{"x":872.3,"y":38.01},{"x":872.8,"y":39.4},{"x":873.3,"y":36.31},{"x":873.8,"y":30.9},{"x":874.3,"y":26.17},{"x":874.8,"y":23.43},{"x":875.3,"y":22.32}]},
      "mark":{"type":"area","interpolate":"monotone","clip":true,"stroke":"#ff8a8a","strokeWidth":1,"fill":{"gradient":"linear","x1":0,"y1":0,"x2":0,"y2":1,"stops":[{"offset":0,"color":"#d080c0"},{"offset":0.35,"color":"#2a2ac0"},{"offset":0.65,"color":"#a0a0a0"},{"offset":1,"color":"#f0f020"}]}},"encoding":{"y2":{"datum":21.9}}},
     {"data":{"values":[{"x":850,"y":24.9},{"x":850.4,"y":16.9},{"x":850.8,"y":29.9},{"x":851.2,"y":19.9},{"x":851.6,"y":12.9},{"x":852,"y":25.9},{"x":852.4,"y":28},{"x":852.8,"y":15.1},{"x":853.2,"y":24.6},{"x":853.6,"y":19.8},{"x":854,"y":37},{"x":854.4,"y":29.3},{"x":854.8,"y":28.7},{"x":855.2,"y":57},{"x":855.6,"y":64.5},{"x":856,"y":65.5},{"x":856.4,"y":84},{"x":856.8,"y":68.8},{"x":857.2,"y":52.5},{"x":857.6,"y":52.5},{"x":858,"y":49.5},{"x":858.4,"y":29.8},{"x":858.8,"y":30.1},{"x":859.2,"y":37.4},{"x":859.6,"y":21.8},{"x":860,"y":36.5},{"x":860.4,"y":30.2},{"x":860.8,"y":41.8},{"x":861.2,"y":28.1},{"x":861.6,"y":36.1},{"x":862,"y":22.9},{"x":862.4,"y":38.5},{"x":862.8,"y":39.7},{"x":863.2,"y":27.8},{"x":863.6,"y":31.8},{"x":864,"y":21.6},{"x":864.4,"y":34.5},{"x":864.8,"y":25.4},{"x":865.2,"y":29.4},{"x":865.6,"y":18.5},{"x":866,"y":36.7},{"x":866.4,"y":19},{"x":866.8,"y":23.5},{"x":867.2,"y":27},{"x":867.6,"y":13.7},{"x":868,"y":29.4},{"x":868.4,"y":19.2},{"x":868.8,"y":24.1},{"x":869.2,"y":16},{"x":869.6,"y":31.1},{"x":870,"y":10.3},{"x":870.4,"y":22.1},{"x":870.8,"y":29.4},{"x":871.2,"y":19.1},{"x":871.6,"y":34},{"x":872,"y":41.4},{"x":872.4,"y":42.9},{"x":872.8,"y":48},{"x":873.2,"y":35.9},{"x":873.6,"y":41.3},{"x":874,"y":25.3},{"x":874.4,"y":28.4},{"x":874.8,"y":33.9},{"x":875.2,"y":22.6},{"x":875.6,"y":19.1},{"x":876,"y":31.8},{"x":876.4,"y":26.6},{"x":876.8,"y":37.5},{"x":877.2,"y":23.4},{"x":877.6,"y":32.3},{"x":878,"y":27.1},{"x":878.4,"y":37.8},{"x":878.8,"y":22.3},{"x":879.2,"y":35.7},{"x":879.6,"y":36.8},{"x":880,"y":27.7},{"x":880.4,"y":39.4},{"x":880.8,"y":29.8},{"x":881.2,"y":43.1},{"x":881.6,"y":31.4},{"x":882,"y":39.4},{"x":882.4,"y":22.5},{"x":882.8,"y":30.6},{"x":883.2,"y":23.7},{"x":883.6,"y":30.9},{"x":884,"y":16.1},{"x":884.4,"y":26.4},{"x":884.8,"y":31.9},{"x":885.2,"y":19.4},{"x":885.6,"y":22},{"x":886,"y":28.7},{"x":886.4,"y":15.5},{"x":886.8,"y":26.3},{"x":887.2,"y":20.2},{"x":887.6,"y":31},{"x":888,"y":16.9},{"x":888.4,"y":13.9},{"x":888.8,"y":24.9},{"x":889.2,"y":26.9},{"x":889.6,"y":15.9},{"x":890,"y":23.9}]},
      "mark":{"type":"line","color":"#222","strokeWidth":0.8,"clip":true},"encoding":{}},
     {"data":{"values":[{"x":853.5,"y":21.9},{"x":890,"y":21.9}]},"mark":{"type":"line","color":"#33ff33","strokeWidth":2.2,"clip":true},"encoding":{}},
     {"data":{"name":"dEnv"},"mark":{"type":"line","interpolate":"monotone","clip":true,"color":"#1f7f1f","strokeWidth":5},"encoding":{}},
     {"data":{"name":"dEnv"},"mark":{"type":"line","interpolate":"monotone","clip":true,"color":"#6fcf6f","strokeWidth":2.4,"strokeDash":[0,4],"strokeCap":"round"},"encoding":{}},
     {"data":{"values":[{"x":858.1,"y":87.2,"t":"Ni"},{"x":873.7,"y":51.7,"t":"Ni"}]},"mark":{"type":"text","align":"right","fontSize":13,"fill":"#111"},"encoding":{"text":{"field":"t"}}},
     {"data":{"values":[{"x":858.1,"y":84,"t":"2p 3/2"},{"x":873.7,"y":48.6,"t":"2p 1/2"}]},"mark":{"type":"text","align":"left","fontSize":10,"fill":"#111"},"encoding":{"text":{"field":"t"}}},
     {"data":{"values":[{"x":863,"y":64.9,"t":"Sat."},{"x":881.3,"y":49.1,"t":"Sat."}]},"mark":{"type":"text","fontSize":11,"fill":"#111"},"encoding":{"text":{"field":"t"}}},
     {"data":{"values":[{"x":850.3,"y":94.7,"t":"Ni 2p"}]},"mark":{"type":"text","align":"left","fontSize":15,"fill":"#000"},"encoding":{"text":{"field":"t"}}},
     {"data":{"values":[{"x":888.8,"y":91.2,"t":"(d)"}]},"mark":{"type":"text","align":"right","fontSize":20,"fill":"#000"},"encoding":{"text":{"field":"t"}}},
     {"data":{"values":[{"x":881.8,"y":66.7,"t":"NCW/ND-GCN"}]},"mark":{"type":"text","fontSize":13.5,"fill":"#ff1f1f"},"encoding":{"text":{"field":"t"}}}
    ]},
   {"width":232,"height":190,
    "encoding":{"x":{"field":"x","type":"quantitative","scale":{"domain":[770,810],"nice":false,"zero":false},"axis":{"values":[770,780,790,800,810],"title":"Binding Energy (eV)"}},
                "y":{"field":"y","type":"quantitative","scale":{"domain":[0,100],"nice":false,"zero":false},"axis":{"title":"Intensity (a.u.)"}}},
    "layer":[
     {"data":{"values":[{"x":776,"y":53.84},{"x":777,"y":53.91},{"x":778,"y":54.09},{"x":779.1,"y":54.51},{"x":780.1,"y":55.25},{"x":781.1,"y":56.43},{"x":782.1,"y":58.1},{"x":783.1,"y":60.07},{"x":784.1,"y":61.98},{"x":785,"y":63.26},{"x":786,"y":63.8},{"x":787,"y":63.26},{"x":788,"y":61.81},{"x":789,"y":59.87},{"x":790,"y":57.91},{"x":791,"y":56.29},{"x":792,"y":55.15},{"x":793,"y":54.46},{"x":794,"y":54.09},{"x":795,"y":53.91},{"x":796,"y":53.84}]},
      "mark":{"type":"area","interpolate":"monotone","clip":true,"stroke":"#1a1aff","strokeWidth":2,"fill":{"gradient":"linear","x1":0,"y1":0,"x2":1,"y2":0,"stops":[{"offset":0,"color":"#e0a8d8"},{"offset":1,"color":"#a8b8ec"}]}},"encoding":{"y2":{"datum":53.8}}},
     {"data":{"values":[{"x":778.6,"y":54.03},{"x":779.1,"y":54.72},{"x":779.6,"y":56.64},{"x":780.1,"y":60.62},{"x":780.6,"y":66.54},{"x":781.1,"y":72.33},{"x":781.6,"y":74.8},{"x":782.1,"y":72.33},{"x":782.6,"y":66.54},{"x":783.1,"y":60.62},{"x":783.6,"y":56.64},{"x":784.1,"y":54.72},{"x":785,"y":53.87}]},
      "mark":{"type":"area","interpolate":"monotone","clip":true,"stroke":"#33ee33","strokeWidth":2,"fill":{"gradient":"linear","x1":0,"y1":0,"x2":0,"y2":1,"stops":[{"offset":0,"color":"#a07048"},{"offset":1,"color":"#d0a888"}]}},"encoding":{"y2":{"datum":53.8}}},
     {"data":{"values":[{"x":794.3,"y":54.13},{"x":794.8,"y":54.83},{"x":795.3,"y":56.42},{"x":795.8,"y":59.21},{"x":796.3,"y":62.86},{"x":796.8,"y":66.16},{"x":797.3,"y":67.5},{"x":797.8,"y":66.16},{"x":798.3,"y":62.86},{"x":798.8,"y":59.21},{"x":799.3,"y":56.42},{"x":799.8,"y":54.83},{"x":800.3,"y":54.13}]},
      "mark":{"type":"area","interpolate":"monotone","clip":true,"fill":{"gradient":"linear","x1":0,"y1":0,"x2":0,"y2":1,"stops":[{"offset":0,"color":"#c8185a"},{"offset":1,"color":"#8a0a3a"}]}},"encoding":{"y2":{"datum":53.8}}},
     {"data":{"values":[{"x":799.3,"y":54.12},{"x":799.8,"y":54.43},{"x":800.3,"y":54.94},{"x":801,"y":56.07},{"x":802,"y":58.34},{"x":803,"y":60.22},{"x":803.5,"y":60.5},{"x":804,"y":60.22},{"x":805,"y":58.34},{"x":806,"y":56.07},{"x":807,"y":54.6},{"x":808,"y":54},{"x":809,"y":53.83}]},
      "mark":{"type":"area","interpolate":"monotone","clip":true,"stroke":"#1a1aff","strokeWidth":1.5,"fill":{"gradient":"linear","x1":0,"y1":0,"x2":0,"y2":1,"stops":[{"offset":0,"color":"#4a30e0"},{"offset":1,"color":"#d070c0"}]}},"encoding":{"y2":{"datum":53.8}}},
     {"data":{"values":[{"x":772,"y":8.84},{"x":773,"y":9.14},{"x":774,"y":10.17},{"x":775,"y":11.55},{"x":775.5,"y":11.8},{"x":776,"y":11.55},{"x":777,"y":10.17},{"x":778,"y":9.14},{"x":778.8,"y":8.87}]},
      "mark":{"type":"area","interpolate":"monotone","clip":true,"stroke":"#f0d000","strokeWidth":1.5,"fill":"#f0e060"},"encoding":{"y2":{"datum":8.8}}},
     {"data":{"values":[{"x":776,"y":8.95},{"x":777,"y":9.15},{"x":778,"y":9.54},{"x":779.3,"y":10.52},{"x":780.3,"y":11.75},{"x":781.3,"y":13.38},{"x":782.3,"y":15.24},{"x":783.3,"y":17.03},{"x":784.3,"y":18.32},{"x":785.3,"y":18.8},{"x":786.3,"y":18.32},{"x":787.3,"y":17.03},{"x":788.3,"y":15.24},{"x":789.3,"y":13.38},{"x":790.3,"y":11.75},{"x":791.3,"y":10.52},{"x":792.3,"y":9.71},{"x":793.3,"y":9.24},{"x":794.3,"y":8.99},{"x":795.3,"y":8.87}]},
      "mark":{"type":"area","interpolate":"monotone","clip":true,"stroke":"#1a1aff","strokeWidth":2,"fill":{"gradient":"linear","x1":0,"y1":0,"x2":1,"y2":0,"stops":[{"offset":0,"color":"#e0a8d8"},{"offset":1,"color":"#a8b8ec"}]}},"encoding":{"y2":{"datum":8.8}}},
     {"data":{"values":[{"x":779.3,"y":8.86},{"x":779.8,"y":9.21},{"x":780.3,"y":10.68},{"x":780.55,"y":12.28},{"x":780.8,"y":14.64},{"x":781.05,"y":17.69},{"x":781.3,"y":21.08},{"x":781.55,"y":24.17},{"x":781.8,"y":26.24},{"x":782.05,"y":26.76},{"x":782.3,"y":25.58},{"x":782.8,"y":19.72},{"x":783.3,"y":13.61},{"x":783.8,"y":10.23},{"x":784.3,"y":9.09}]},
      "mark":{"type":"area","interpolate":"monotone","clip":true,"stroke":"#33ee33","strokeWidth":2,"fill":{"gradient":"linear","x1":0,"y1":0,"x2":0,"y2":1,"stops":[{"offset":0,"color":"#a07048"},{"offset":1,"color":"#d0a888"}]}},"encoding":{"y2":{"datum":8.8}}},
     {"data":{"values":[{"x":794.3,"y":9.16},{"x":794.8,"y":9.92},{"x":795.3,"y":11.65},{"x":795.8,"y":14.68},{"x":796.3,"y":18.66},{"x":796.8,"y":22.24},{"x":797.3,"y":23.7},{"x":797.8,"y":22.24},{"x":798.3,"y":18.66},{"x":798.8,"y":14.68},{"x":799.3,"y":11.65},{"x":799.8,"y":9.92},{"x":800.3,"y":9.16}]},
      "mark":{"type":"area","interpolate":"monotone","clip":true,"fill":{"gradient":"linear","x1":0,"y1":0,"x2":0,"y2":1,"stops":[{"offset":0,"color":"#c8185a"},{"offset":1,"color":"#8a0a3a"}]}},"encoding":{"y2":{"datum":8.8}}},
     {"data":{"values":[{"x":799.3,"y":9.27},{"x":799.8,"y":9.7},{"x":800.3,"y":10.38},{"x":800.8,"y":11.34},{"x":801.8,"y":13.89},{"x":802.8,"y":15.99},{"x":803.3,"y":16.3},{"x":803.8,"y":15.99},{"x":804.8,"y":13.89},{"x":805.8,"y":11.34},{"x":806.8,"y":9.7},{"x":807.8,"y":9.03},{"x":808.8,"y":8.84}]},
      "mark":{"type":"area","interpolate":"monotone","clip":true,"stroke":"#1a1aff","strokeWidth":1.5,"fill":{"gradient":"linear","x1":0,"y1":0,"x2":0,"y2":1,"stops":[{"offset":0,"color":"#4a30e0"},{"offset":1,"color":"#d070c0"}]}},"encoding":{"y2":{"datum":8.8}}},
     {"data":{"name":"eRaw"},"mark":{"type":"line","color":"#222","strokeWidth":0.8,"clip":true},"encoding":{"detail":{"field":"s"}}},
     {"data":{"values":[{"x":770,"y":53.8},{"x":810,"y":53.8}]},"mark":{"type":"line","color":"#ff0000","strokeWidth":2,"clip":true},"encoding":{}},
     {"data":{"values":[{"x":770,"y":8.1},{"x":810,"y":8.1}]},"mark":{"type":"line","color":"#ffee00","strokeWidth":2,"strokeDash":[3,3],"clip":true},"encoding":{}},
     {"data":{"values":[{"x":770,"y":8.8},{"x":810,"y":8.8}]},"mark":{"type":"line","color":"#33ee33","strokeWidth":2,"clip":true},"encoding":{}},
     {"data":{"name":"eEnv"},"mark":{"type":"line","interpolate":"monotone","clip":true,"color":"#ff2277","strokeWidth":4},"encoding":{"detail":{"field":"s"}}},
     {"data":{"values":[{"x":781.8,"y":88,"y2":8.8}]},"mark":{"type":"rule","color":"#c0703a","strokeWidth":1.2,"strokeDash":[3,2]},"encoding":{"y2":{"field":"y2"}}},
     {"data":{"values":[{"x":781.5,"y":93.8,"t":"Co"}]},"mark":{"type":"text","align":"right","fontSize":11,"fill":"#111"},"encoding":{"text":{"field":"t"}}},
     {"data":{"values":[{"x":781.5,"y":91.4,"t":"2p 3/2"}]},"mark":{"type":"text","align":"left","fontSize":9,"fill":"#111"},"encoding":{"text":{"field":"t"}}},
     {"data":{"values":[{"x":770.6,"y":92,"t":"Co 2p"}]},"mark":{"type":"text","align":"left","fontSize":15,"fill":"#000"},"encoding":{"text":{"field":"t"}}},
     {"data":{"values":[{"x":809.2,"y":92,"t":"(e)"}]},"mark":{"type":"text","align":"right","fontSize":20,"fill":"#000"},"encoding":{"text":{"field":"t"}}},
     {"data":{"values":[{"x":809.6,"y":77.2,"t":"NCW/ND-GCN"},{"x":809.6,"y":30.7,"t":"CZW/ND-GCN"}]},"mark":{"type":"text","align":"right","fontSize":11.5,"fill":"#ff1f1f"},"encoding":{"text":{"field":"t"}}}
    ]},
   {"width":229,"height":190,
    "encoding":{"x":{"field":"x","type":"quantitative","scale":{"domain":[1010,1060],"nice":false,"zero":false},"axis":{"values":[1010,1020,1030,1040,1050,1060],"title":"Binding Energy (eV)"}},
                "y":{"field":"y","type":"quantitative","scale":{"domain":[0,100],"nice":false,"zero":false},"axis":{"title":"Intensity (a.u.)"}}},
    "layer":[
     {"data":{"values":[{"x":1010,"y":12.3},{"x":1010.5,"y":11},{"x":1011,"y":11.9},{"x":1011.5,"y":10.8},{"x":1012,"y":11.7},{"x":1012.5,"y":11.2},{"x":1013,"y":12},{"x":1013.5,"y":10.9},{"x":1014,"y":11.5},{"x":1014.5,"y":10.2},{"x":1015,"y":9.9},{"x":1015.5,"y":10.6},{"x":1016,"y":11.8},{"x":1016.5,"y":11.1},{"x":1017,"y":12.2},{"x":1017.5,"y":11.9},{"x":1018,"y":13.2},{"x":1018.5,"y":15.5},{"x":1019,"y":20.5},{"x":1019.5,"y":30},{"x":1020,"y":44},{"x":1020.5,"y":61},{"x":1021,"y":77},{"x":1021.5,"y":86},{"x":1022,"y":85},{"x":1022.5,"y":73.5},{"x":1023,"y":57},{"x":1023.5,"y":40},{"x":1024,"y":26.5},{"x":1024.5,"y":18.5},{"x":1025,"y":14},{"x":1025.5,"y":12.3},{"x":1026,"y":11},{"x":1026.5,"y":11.8},{"x":1027,"y":10.9},{"x":1027.5,"y":11.5},{"x":1028,"y":10.6},{"x":1028.5,"y":11.3},{"x":1029,"y":12},{"x":1029.5,"y":11.1},{"x":1030,"y":11.6},{"x":1030.5,"y":10.8},{"x":1031,"y":11.4},{"x":1031.5,"y":12.1},{"x":1032,"y":11.3},{"x":1032.5,"y":11.8},{"x":1033,"y":11},{"x":1033.5,"y":12.2},{"x":1034,"y":11.6},{"x":1034.5,"y":12.5},{"x":1035,"y":12.9},{"x":1035.5,"y":12.3},{"x":1036,"y":13.4},{"x":1036.5,"y":12.6},{"x":1037,"y":13.5},{"x":1037.5,"y":12.8},{"x":1038,"y":13.7},{"x":1038.5,"y":12.9},{"x":1039,"y":13.6},{"x":1039.5,"y":12.7},{"x":1040,"y":13.9},{"x":1040.5,"y":13.3},{"x":1041,"y":14.8},{"x":1041.5,"y":15.6},{"x":1042,"y":18.4},{"x":1042.5,"y":23.8},{"x":1043,"y":30.6},{"x":1043.5,"y":38},{"x":1044,"y":44.3},{"x":1044.5,"y":47.8},{"x":1045,"y":47.4},{"x":1045.5,"y":43.4},{"x":1046,"y":36.6},{"x":1046.5,"y":29.2},{"x":1047,"y":22.8},{"x":1047.5,"y":17.8},{"x":1048,"y":14.6},{"x":1048.5,"y":12.9},{"x":1049,"y":12.4},{"x":1049.5,"y":11.1},{"x":1050,"y":11.9},{"x":1050.5,"y":10.7},{"x":1051,"y":11.6},{"x":1051.5,"y":10.9},{"x":1052,"y":11.8},{"x":1052.5,"y":10.4},{"x":1053,"y":11.2},{"x":1053.5,"y":10},{"x":1054,"y":10.8},{"x":1054.5,"y":9.2},{"x":1055,"y":8},{"x":1055.5,"y":10.3},{"x":1056,"y":11.5},{"x":1056.5,"y":10.6},{"x":1057,"y":11.3},{"x":1057.5,"y":10.1},{"x":1058,"y":11},{"x":1058.5,"y":10.4},{"x":1059,"y":11.2},{"x":1059.5,"y":10.6},{"x":1060,"y":11}]},
      "mark":{"type":"line","color":"#111","strokeWidth":1,"clip":true},"encoding":{}},
     {"data":{"values":[{"x":1017.7,"y":12.07},{"x":1018.2,"y":13.44},{"x":1018.7,"y":16.72},{"x":1019.2,"y":23.41},{"x":1019.7,"y":34.77},{"x":1020.2,"y":50.61},{"x":1020.7,"y":68.16},{"x":1021.2,"y":82.26},{"x":1021.7,"y":87.7},{"x":1022.2,"y":82.26},{"x":1022.7,"y":68.16},{"x":1023.2,"y":50.61},{"x":1023.7,"y":34.77},{"x":1024.2,"y":23.41},{"x":1024.7,"y":16.72},{"x":1025.2,"y":13.44},{"x":1025.7,"y":12.07}]},
      "mark":{"type":"area","interpolate":"monotone","clip":true,"fill":{"gradient":"linear","x1":0,"y1":0,"x2":0,"y2":1,"stops":[{"offset":0,"color":"#40f040"},{"offset":1,"color":"#14c014"}]}},"encoding":{"y2":{"datum":11.4}}},
     {"data":{"values":[{"x":1040.7,"y":12.45},{"x":1041.2,"y":13.82},{"x":1041.7,"y":16.38},{"x":1042.2,"y":20.56},{"x":1042.7,"y":26.52},{"x":1043.2,"y":33.72},{"x":1043.7,"y":40.88},{"x":1044.2,"y":46.21},{"x":1044.7,"y":48.2},{"x":1045.2,"y":46.21},{"x":1045.7,"y":40.88},{"x":1046.2,"y":33.72},{"x":1046.7,"y":26.52},{"x":1047.2,"y":20.56},{"x":1047.7,"y":16.38},{"x":1048.2,"y":13.82},{"x":1048.7,"y":12.45}]},
      "mark":{"type":"area","interpolate":"monotone","clip":true,"fill":{"gradient":"linear","x1":0,"y1":0,"x2":0,"y2":1,"stops":[{"offset":0,"color":"#8a30b0"},{"offset":0.5,"color":"#d060d0"},{"offset":1,"color":"#f0a0e8"}]}},"encoding":{"y2":{"datum":11.4}}},
     {"data":{"values":[{"x":1018.8,"y":10.9,"s":"a"},{"x":1025.2,"y":10.9,"s":"a"},{"x":1041.6,"y":10.9,"s":"b"},{"x":1048,"y":10.9,"s":"b"}]},"mark":{"type":"line","color":"#ff1010","strokeWidth":2.5,"clip":true},"encoding":{"detail":{"field":"s"}}},
     {"data":{"name":"fEnv"},"mark":{"type":"line","interpolate":"monotone","clip":true,"color":"#1f1fe6","strokeWidth":7.5,"strokeDash":[0,5],"strokeCap":"round"},"encoding":{}},
     {"data":{"name":"fEnv"},"mark":{"type":"line","interpolate":"monotone","clip":true,"color":"#6a6aff","strokeWidth":3.5,"strokeDash":[0,5],"strokeCap":"round"},"encoding":{}},
     {"data":{"values":[{"x":1023.5,"y":92.1,"t":"Zn"},{"x":1044.2,"y":56.2,"t":"Zn"}]},"mark":{"type":"text","align":"right","fontSize":12,"fill":"#111"},"encoding":{"text":{"field":"t"}}},
     {"data":{"values":[{"x":1023.5,"y":89.2,"t":"2p 3/2"},{"x":1044.2,"y":53.3,"t":"2p 1/2"}]},"mark":{"type":"text","align":"left","fontSize":10,"fill":"#111"},"encoding":{"text":{"field":"t"}}},
     {"data":{"values":[{"x":1010.9,"y":93,"t":"Zn 2p"}]},"mark":{"type":"text","align":"left","fontSize":15,"fill":"#000"},"encoding":{"text":{"field":"t"}}},
     {"data":{"values":[{"x":1058.2,"y":91,"t":"(f)"}]},"mark":{"type":"text","align":"right","fontSize":20,"fill":"#000"},"encoding":{"text":{"field":"t"}}},
     {"data":{"values":[{"x":1049.8,"y":71.9,"t":"CZW/ND-GCN"}]},"mark":{"type":"text","fontSize":13,"fill":"#ff1f1f"},"encoding":{"text":{"field":"t"}}}
    ]}
  ],"spacing":25,"bounds":"flush"}
 ],"spacing":4},
 {"hconcat":[
  {"width":234,"height":189,
   "encoding":{"x":{"field":"x","type":"quantitative","scale":{"domain":[30,42],"nice":false,"zero":false},"axis":{"values":[30,32,34,36,38,40,42],"title":"Binding Energy (eV)"}},
               "y":{"field":"y","type":"quantitative","scale":{"domain":[0,100],"nice":false,"zero":false},"axis":{"title":"Intensity (a.u.)"}}},
   "layer":[
    {"data":{"values":[{"x":34,"y":46.4,"s":"u"},{"x":39.6,"y":46.4,"s":"u"},{"x":30,"y":4.6,"s":"l"},{"x":42,"y":4.6,"s":"l"}]},"mark":{"type":"line","color":"#1a1aff","strokeWidth":2.5,"clip":true},"encoding":{"detail":{"field":"s"}}},
    {"data":{"values":[{"x":33.8,"y":46.82},{"x":34.05,"y":47.22},{"x":34.3,"y":48.55},{"x":34.55,"y":51.94},{"x":34.8,"y":58.47},{"x":35.05,"y":67.67},{"x":35.3,"y":76.36},{"x":35.55,"y":80},{"x":35.8,"y":76.36},{"x":36.05,"y":67.67},{"x":36.3,"y":58.47},{"x":36.55,"y":51.94},{"x":36.8,"y":48.55},{"x":37.05,"y":47.22},{"x":37.3,"y":46.82}]},
     "mark":{"type":"area","interpolate":"monotone","clip":true,"stroke":"#33dd33","strokeWidth":1.5,"fill":{"gradient":"linear","x1":0,"y1":0,"x2":1,"y2":0,"stops":[{"offset":0,"color":"#ff2a6a"},{"offset":0.5,"color":"#e8508a"},{"offset":0.7,"color":"#c8907a"},{"offset":1,"color":"#b89078"}]}},"encoding":{"y2":{"datum":46.7}}},
    {"data":{"values":[{"x":35.8,"y":46.75},{"x":36.05,"y":46.96},{"x":36.3,"y":47.7},{"x":36.55,"y":49.74},{"x":36.8,"y":54.06},{"x":37.05,"y":60.82},{"x":37.3,"y":68.2},{"x":37.55,"y":72.69},{"x":37.8,"y":71.63},{"x":38.05,"y":65.68},{"x":38.3,"y":58.17},{"x":38.55,"y":52.2},{"x":38.8,"y":48.79},{"x":39.05,"y":47.33},{"x":39.3,"y":46.85},{"x":39.55,"y":46.73}]},
     "mark":{"type":"area","interpolate":"monotone","clip":true,"stroke":"#1a1aff","strokeWidth":1.5,"fill":{"gradient":"linear","x1":0,"y1":0,"x2":0,"y2":1,"stops":[{"offset":0,"color":"#1a3a7a"},{"offset":0.5,"color":"#1a8a6a"},{"offset":1,"color":"#20e070"}]}},"encoding":{"y2":{"datum":46.7}}},
    {"data":{"values":[{"x":33.75,"y":5.52},{"x":34,"y":5.92},{"x":34.25,"y":7.25},{"x":34.5,"y":10.64},{"x":34.75,"y":17.17},{"x":35,"y":26.37},{"x":35.25,"y":35.06},{"x":35.5,"y":38.8},{"x":35.75,"y":35.06},{"x":36,"y":26.37},{"x":36.25,"y":17.17},{"x":36.5,"y":10.64},{"x":36.75,"y":7.25},{"x":37,"y":5.92},{"x":37.25,"y":5.52}]},
     "mark":{"type":"area","interpolate":"monotone","clip":true,"stroke":"#33ee33","strokeWidth":2,"fill":{"gradient":"linear","x1":0,"y1":0,"x2":1,"y2":0,"stops":[{"offset":0,"color":"#ff2a6a"},{"offset":0.5,"color":"#e8508a"},{"offset":0.7,"color":"#c8907a"},{"offset":1,"color":"#b89078"}]}},"encoding":{"y2":{"datum":5.4}}},
    {"data":{"values":[{"x":35.75,"y":5.45},{"x":36,"y":5.66},{"x":36.25,"y":6.4},{"x":36.5,"y":8.44},{"x":36.75,"y":12.76},{"x":37,"y":19.52},{"x":37.25,"y":26.9},{"x":37.5,"y":31.39},{"x":37.75,"y":30.33},{"x":38,"y":24.38},{"x":38.25,"y":16.87},{"x":38.5,"y":10.9},{"x":38.75,"y":7.49},{"x":39,"y":6.03},{"x":39.25,"y":5.55},{"x":39.5,"y":5.43}]},
     "mark":{"type":"area","interpolate":"monotone","clip":true,"stroke":"#1a1aff","strokeWidth":2,"fill":{"gradient":"linear","x1":0,"y1":0,"x2":0,"y2":1,"stops":[{"offset":0,"color":"#1a3a7a"},{"offset":0.5,"color":"#1a8a6a"},{"offset":1,"color":"#20e070"}]}},"encoding":{"y2":{"datum":5.4}}},
    {"data":{"values":[{"s":"u","x":40.3,"y":47.6},{"s":"u","x":40.5,"y":47.2},{"s":"u","x":40.7,"y":47.8},{"s":"u","x":40.9,"y":47.3},{"s":"u","x":41.1,"y":47.7},{"s":"u","x":41.3,"y":47.1},{"s":"u","x":41.5,"y":47.6},{"s":"u","x":41.7,"y":47.3},{"s":"u","x":41.9,"y":47.8},{"s":"u","x":42,"y":47.4},{"s":"l","x":40.5,"y":6.4},{"s":"l","x":40.7,"y":6},{"s":"l","x":40.9,"y":6.6},{"s":"l","x":41.1,"y":6.1},{"s":"l","x":41.3,"y":6.5},{"s":"l","x":41.5,"y":6},{"s":"l","x":41.7,"y":6.6},{"s":"l","x":41.9,"y":6.2}]},
     "mark":{"type":"line","color":"#111","strokeWidth":1.2,"clip":true},"encoding":{"detail":{"field":"s"}}},
    {"data":{"name":"gEnv"},"mark":{"type":"line","interpolate":"monotone","clip":true,"color":"#ff1a1a","strokeWidth":7,"strokeDash":[0,4.5],"strokeCap":"round"},"encoding":{"detail":{"field":"s"}}},
    {"data":{"name":"gEnv"},"mark":{"type":"line","interpolate":"monotone","clip":true,"color":"#ffd8d8","strokeWidth":3,"strokeDash":[0,4.5],"strokeCap":"round"},"encoding":{"detail":{"field":"s"}}},
    {"data":{"values":[{"x":35.5,"y":83.5,"y2":5.4},{"x":37.63,"y":81.7,"y2":5.4}]},"mark":{"type":"rule","color":"#6a4a7a","strokeWidth":1.1,"strokeDash":[3,2]},"encoding":{"y2":{"field":"y2"}}},
    {"data":{"values":[{"x":35.2,"y":86.4,"t":"W"},{"x":37.4,"y":86.4,"t":"W"}]},"mark":{"type":"text","align":"right","fontSize":13,"fill":"#111"},"encoding":{"text":{"field":"t"}}},
    {"data":{"values":[{"x":35.2,"y":83.4,"t":"4f 5/2"},{"x":37.4,"y":83.4,"t":"4f 7/2"}]},"mark":{"type":"text","align":"left","fontSize":10,"fill":"#111"},"encoding":{"text":{"field":"t"}}},
    {"data":{"values":[{"x":30.25,"y":92.6,"t":"W 4f"}]},"mark":{"type":"text","align":"left","fontSize":15,"fill":"#000"},"encoding":{"text":{"field":"t"}}},
    {"data":{"values":[{"x":41.5,"y":91.7,"t":"(g)"}]},"mark":{"type":"text","align":"right","fontSize":20,"fill":"#000"},"encoding":{"text":{"field":"t"}}},
    {"data":{"values":[{"x":32.33,"y":61.6,"t":"NCW/ND-GCN"},{"x":32.2,"y":20.4,"t":"CZW/ND-GCN"}]},"mark":{"type":"text","fontSize":12,"fill":"#ff1f1f"},"encoding":{"text":{"field":"t"}}}
   ]},
  {"width":232,"height":189,
   "encoding":{"x":{"field":"x","type":"quantitative","scale":{"domain":[526,540],"nice":false,"zero":false},"axis":{"values":[526,528,530,532,534,536,538,540],"title":"Binding Energy (eV)"}},
               "y":{"field":"y","type":"quantitative","scale":{"domain":[0,100],"nice":false,"zero":false},"axis":{"title":"Intensity (a.u.)"}}},
   "layer":[
    {"data":{"values":[{"x":528.72,"y":48.49},{"x":528.97,"y":48.59},{"x":529.22,"y":48.77},{"x":529.47,"y":49.09},{"x":529.72,"y":49.61},{"x":529.97,"y":50.43},{"x":530.22,"y":51.64},{"x":530.47,"y":53.3},{"x":530.72,"y":55.44},{"x":530.97,"y":58},{"x":531.22,"y":60.85},{"x":531.47,"y":63.72},{"x":531.72,"y":66.31},{"x":531.97,"y":68.28},{"x":532.22,"y":69.35},{"x":532.47,"y":69.35},{"x":532.72,"y":68.34},{"x":532.97,"y":66.4},{"x":533.22,"y":63.83},{"x":533.47,"y":60.97},{"x":533.97,"y":55.53},{"x":534.47,"y":51.7},{"x":534.97,"y":49.64},{"x":535.47,"y":48.78},{"x":535.97,"y":48.49}]},
     "mark":{"type":"area","interpolate":"monotone","clip":true,"stroke":"#33ee33","strokeWidth":2,"fill":{"gradient":"linear","x1":0,"y1":0,"x2":0,"y2":1,"stops":[{"offset":0,"color":"#1a6a5a"},{"offset":0.5,"color":"#4a8a6a"},{"offset":1,"color":"#d8e080"}]}},"encoding":{"y2":{"datum":48.4}}},
    {"data":{"values":[{"x":529.22,"y":48.47},{"x":529.47,"y":48.74},{"x":529.72,"y":49.75},{"x":529.97,"y":52.55},{"x":530.22,"y":58.37},{"x":530.47,"y":67.02},{"x":530.72,"y":75.49},{"x":530.97,"y":79.1},{"x":531.22,"y":75.49},{"x":531.47,"y":67.02},{"x":531.72,"y":58.37},{"x":531.97,"y":52.55},{"x":532.22,"y":49.75},{"x":532.47,"y":48.74},{"x":532.72,"y":48.47}]},
     "mark":{"type":"area","interpolate":"monotone","clip":true,"stroke":"#ff1a1a","strokeWidth":2,"fill":{"gradient":"linear","x1":0,"y1":0,"x2":1,"y2":0,"stops":[{"offset":0,"color":"#c01060"},{"offset":0.4,"color":"#6010a0"},{"offset":0.7,"color":"#2020c0"},{"offset":1,"color":"#3030d0"}]}},"encoding":{"y2":{"datum":48.4}}},
    {"data":{"values":[{"x":528.58,"y":6.37},{"x":528.83,"y":6.45},{"x":529.08,"y":6.6},{"x":529.33,"y":6.86},{"x":529.58,"y":7.29},{"x":529.83,"y":7.95},{"x":530.08,"y":8.94},{"x":530.33,"y":10.29},{"x":530.58,"y":12.04},{"x":530.83,"y":14.13},{"x":531.08,"y":16.45},{"x":531.33,"y":18.79},{"x":531.58,"y":20.9},{"x":531.83,"y":22.51},{"x":532.08,"y":23.38},{"x":532.33,"y":23.38},{"x":532.58,"y":22.56},{"x":532.83,"y":20.97},{"x":533.08,"y":18.88},{"x":533.33,"y":16.55},{"x":533.83,"y":12.11},{"x":534.33,"y":8.99},{"x":534.83,"y":7.31},{"x":535.33,"y":6.61},{"x":535.83,"y":6.37}]},
     "mark":{"type":"area","interpolate":"monotone","clip":true,"stroke":"#33ee33","strokeWidth":2,"fill":{"gradient":"linear","x1":0,"y1":0,"x2":0,"y2":1,"stops":[{"offset":0,"color":"#1a6a5a"},{"offset":0.5,"color":"#4a8a6a"},{"offset":1,"color":"#d8e080"}]}},"encoding":{"y2":{"datum":6.3}}},
    {"data":{"values":[{"x":529.08,"y":6.36},{"x":529.33,"y":6.58},{"x":529.58,"y":7.42},{"x":529.83,"y":9.73},{"x":530.08,"y":14.55},{"x":530.33,"y":21.71},{"x":530.58,"y":28.71},{"x":530.83,"y":31.7},{"x":531.08,"y":28.71},{"x":531.33,"y":21.71},{"x":531.58,"y":14.55},{"x":531.83,"y":9.73},{"x":532.08,"y":7.42},{"x":532.33,"y":6.58},{"x":532.58,"y":6.36}]},
     "mark":{"type":"area","interpolate":"monotone","clip":true,"stroke":"#ff1a1a","strokeWidth":2,"fill":{"gradient":"linear","x1":0,"y1":0,"x2":1,"y2":0,"stops":[{"offset":0,"color":"#ff2020"},{"offset":0.45,"color":"#c01060"},{"offset":0.75,"color":"#6010a0"},{"offset":1,"color":"#3030d0"}]}},"encoding":{"y2":{"datum":6.3}}},
    {"data":{"values":[{"s":"ur","x":535.6,"y":49.6},{"s":"ur","x":535.8,"y":50.3},{"s":"ur","x":536,"y":49.4},{"s":"ur","x":536.2,"y":50},{"s":"ur","x":536.4,"y":49.2},{"s":"ur","x":536.6,"y":49.8},{"s":"ur","x":536.8,"y":49},{"s":"ur","x":537,"y":49.6},{"s":"ur","x":537.3,"y":48.9},{"s":"ur","x":537.6,"y":49.4},{"s":"ur","x":537.9,"y":48.8},{"s":"ur","x":538.2,"y":49.3},{"s":"ur","x":538.5,"y":48.7},{"s":"ur","x":538.8,"y":49.2},{"s":"ur","x":539.1,"y":48.8},{"s":"ur","x":539.4,"y":49.1},{"s":"ur","x":539.7,"y":48.7},{"s":"ur","x":540,"y":49},{"s":"ul","x":526.2,"y":47.6},{"s":"ul","x":526.5,"y":48},{"s":"ul","x":526.8,"y":47.5},{"s":"ul","x":527.1,"y":47.9},{"s":"ul","x":527.4,"y":47.4},{"s":"ul","x":527.7,"y":47.8},{"s":"ul","x":528,"y":47.5},{"s":"ul","x":528.3,"y":47.9},{"s":"lr","x":535.5,"y":7.5},{"s":"lr","x":535.8,"y":7.1},{"s":"lr","x":536.1,"y":7.6},{"s":"lr","x":536.4,"y":7},{"s":"lr","x":536.7,"y":7.4},{"s":"lr","x":537,"y":6.9},{"s":"lr","x":537.3,"y":7.3},{"s":"lr","x":537.6,"y":6.9},{"s":"lr","x":537.9,"y":7.2},{"s":"lr","x":538.2,"y":6.8},{"s":"lr","x":538.5,"y":7.1},{"s":"lr","x":538.8,"y":6.8},{"s":"lr","x":539.1,"y":7},{"s":"lr","x":539.4,"y":6.7},{"s":"lr","x":539.7,"y":6.9},{"s":"lr","x":540,"y":6.8},{"s":"ll","x":526.2,"y":5.5},{"s":"ll","x":526.5,"y":5.9},{"s":"ll","x":526.8,"y":5.4},{"s":"ll","x":527.1,"y":5.8},{"s":"ll","x":527.4,"y":5.3},{"s":"ll","x":527.7,"y":5.7},{"s":"ll","x":528,"y":5.4}]},
     "mark":{"type":"line","color":"#111","strokeWidth":1.1,"clip":true},"encoding":{"detail":{"field":"s"}}},
    {"data":{"name":"hEnv"},"mark":{"type":"line","interpolate":"monotone","clip":true,"color":"#2323e0","strokeWidth":6.5,"strokeDash":[0,4.5],"strokeCap":"round"},"encoding":{"detail":{"field":"s"}}},
    {"data":{"name":"hEnv"},"mark":{"type":"line","interpolate":"monotone","clip":true,"color":"#aab0ff","strokeWidth":2.5,"strokeDash":[0,4.5],"strokeCap":"round"},"encoding":{"detail":{"field":"s"}}},
    {"data":{"values":[{"x":530.97,"y":92.3,"y2":6.3},{"x":533.3,"y":30.9,"y2":6.3}]},"mark":{"type":"rule","color":"#b06a3a","strokeWidth":1.2,"strokeDash":[3,2]},"encoding":{"y2":{"field":"y2"}}},
    {"data":{"values":[{"x":530.97,"y":94.9,"t":"W-O-W"},{"x":533.2,"y":34.4,"t":"C-O"}]},"mark":{"type":"text","fontSize":10,"fill":"#111"},"encoding":{"text":{"field":"t"}}},
    {"data":{"values":[{"x":526.15,"y":92.3,"t":"O 1s"}]},"mark":{"type":"text","align":"left","fontSize":15,"fill":"#000"},"encoding":{"text":{"field":"t"}}},
    {"data":{"values":[{"x":539.6,"y":90.5,"t":"(h)"}]},"mark":{"type":"text","align":"right","fontSize":20,"fill":"#000"},"encoding":{"text":{"field":"t"}}},
    {"data":{"values":[{"x":539.7,"y":59.8,"t":"NCW/ND-GCN"},{"x":539.65,"y":15.9,"t":"CZW/ND-GCN"}]},"mark":{"type":"text","align":"right","fontSize":12,"fill":"#ff1f1f"},"encoding":{"text":{"field":"t"}}}
   ]}
 ],"spacing":22,"bounds":"flush"}
],
"spacing":19,
"center":true
}
